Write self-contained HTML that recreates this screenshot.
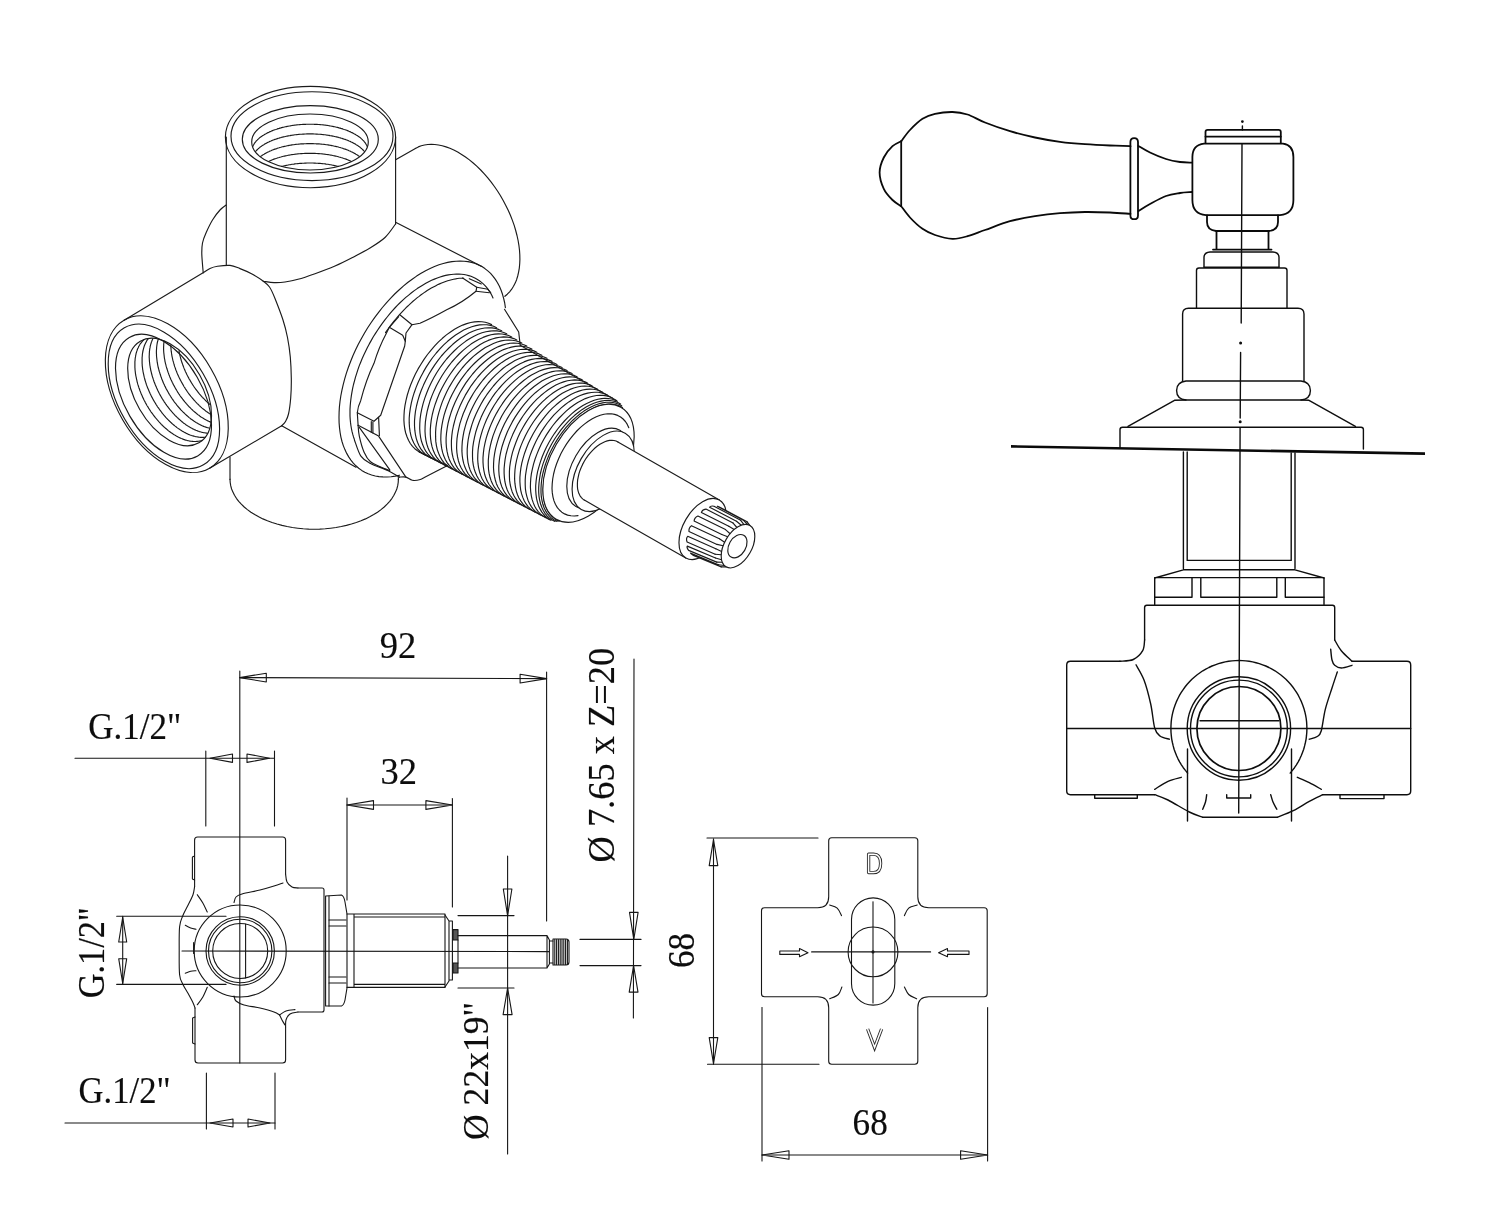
<!DOCTYPE html>
<html><head><meta charset="utf-8"><title>drawing</title>
<style>
html,body{margin:0;padding:0;background:#fff;}
body{width:1500px;height:1220px;overflow:hidden;font-family:"Liberation Serif",serif;}
svg{display:block;filter:grayscale(1);}
svg path,svg ellipse,svg circle,svg rect,svg line{fill:none;stroke:#1a1a1f;stroke-width:0.9;stroke-linecap:round;stroke-linejoin:round;}
.iso path,.iso ellipse{stroke:#1a1a22;stroke-width:1.15;}
.hv path{stroke:#0a0a0a;stroke-width:1.8;}
.md path,.md ellipse,.md circle{stroke:#0e0e0e;stroke-width:1.4;}
.dm path,.dm circle{stroke:#161616;stroke-width:1.1;}
svg .w{fill:#fff;}
svg .ns{stroke:none;}
text{font-family:"Liberation Serif",serif;fill:#0d0d0d;stroke:#0d0d0d;stroke-width:0.15;}
</style></head><body>
<svg width="1500" height="1220" viewBox="0 0 1500 1220">
<rect x="0" y="0" width="1500" height="1220" class="w ns"/>
<g class="iso">
<path d="M226.2 205 C225.2 205.8 222.3 207.5 220 210 C217.7 212.5 214.8 216.2 212.5 220 C210.2 223.8 207.9 228.7 206.2 232.5 C204.5 236.3 203.2 239.4 202.5 243 C201.8 246.6 201.7 249 201.8 254 C201.9 259 203 269.7 203.2 272.8"/>
<ellipse cx="310.5" cy="137" rx="85.1" ry="50.7"/>
<ellipse cx="312" cy="136.2" rx="81" ry="44.4"/>
<ellipse cx="310.3" cy="139.3" rx="68" ry="33.7"/>
<ellipse cx="310" cy="142" rx="58.3" ry="28"/>
<path d="M252.8 146.5 L253 146 L253.2 145.5 L253.4 145 L253.7 144.6 L254 144.1 L254.2 143.7 L254.6 143.2 L254.9 142.7 L255.2 142.3 L255.6 141.8 L255.9 141.4 L256.3 141 L256.7 140.5 L257.2 140.1 L257.6 139.6 L258.1 139.2 L258.5 138.8 L259 138.4 L259.5 137.9 L260 137.5 L260.6 137.1 L261.1 136.7 L261.7 136.3 L262.2 135.9 L262.8 135.5 L263.4 135.2 L264.1 134.8 L264.7 134.4 L265.3 134 L266 133.7 L266.7 133.3 L267.4 132.9 L268.1 132.6 L268.8 132.3 L269.5 131.9 L270.2 131.6 L271 131.3 L271.8 130.9 L272.5 130.6 L273.3 130.3 L274.1 130 L274.9 129.7 L275.7 129.5 L276.6 129.2 L277.4 128.9 L278.2 128.6 L279.1 128.4 L280 128.1 L280.8 127.9 L281.7 127.6 L282.6 127.4 L283.5 127.2 L284.4 127 L285.4 126.8 L286.3 126.6 L287.2 126.4 L288.2 126.2 L289.1 126 L290.1 125.9 L291 125.7 L292 125.5 L293 125.4 L293.9 125.3 L294.9 125.1 L295.9 125 L296.9 124.9 L297.9 124.8 L298.9 124.7 L299.9 124.6 L300.9 124.5 L301.9 124.5 L302.9 124.4 L303.9 124.4 L304.9 124.3 L305.9 124.3 L306.9 124.2 L308 124.2 L309 124.2 L310 124.2 L311 124.2 L312 124.2 L313.1 124.2 L314.1 124.3 L315.1 124.3 L316.1 124.4 L317.1 124.4 L318.1 124.5 L319.1 124.5 L320.1 124.6 L321.1 124.7 L322.1 124.8 L323.1 124.9 L324.1 125 L325.1 125.1 L326.1 125.3 L327 125.4 L328 125.5 L329 125.7 L329.9 125.9 L330.9 126 L331.8 126.2 L332.8 126.4 L333.7 126.6 L334.6 126.8 L335.6 127 L336.5 127.2 L337.4 127.4 L338.3 127.6 L339.1 127.9 L340 128.1 L340.9 128.4 L341.8 128.6 L342.6 128.9 L343.4 129.2 L344.3 129.5 L345.1 129.7 L345.9 130 L346.7 130.3 L347.5 130.6 L348.2 130.9 L349 131.3 L349.8 131.6 L350.5 131.9 L351.2 132.3 L351.9 132.6 L352.6 132.9 L353.3 133.3 L354 133.7 L354.7 134 L355.3 134.4 L355.9 134.8 L356.6 135.2 L357.2 135.5 L357.8 135.9 L358.3 136.3 L358.9 136.7 L359.4 137.1 L360 137.5 L360.5 137.9 L361 138.4 L361.5 138.8 L361.9 139.2 L362.4 139.6 L362.8 140.1 L363.3 140.5 L363.7 141 L364.1 141.4 L364.4 141.8 L364.8 142.3 L365.1 142.7 L365.4 143.2 L365.8 143.7 L366 144.1 L366.3 144.6 L366.6 145 L366.8 145.5 L367 146 L367.2 146.5"/>
<path d="M255.6 151.5 L255.9 151.1 L256.3 150.7 L256.7 150.2 L257.2 149.8 L257.6 149.3 L258.1 148.9 L258.5 148.5 L259 148.1 L259.5 147.7 L260 147.2 L260.6 146.8 L261.1 146.4 L261.7 146 L262.2 145.6 L262.8 145.2 L263.4 144.9 L264.1 144.5 L264.7 144.1 L265.3 143.7 L266 143.4 L266.7 143 L267.4 142.6 L268.1 142.3 L268.8 142 L269.5 141.6 L270.2 141.3 L271 141 L271.8 140.6 L272.5 140.3 L273.3 140 L274.1 139.7 L274.9 139.4 L275.7 139.2 L276.6 138.9 L277.4 138.6 L278.2 138.3 L279.1 138.1 L280 137.8 L280.8 137.6 L281.7 137.3 L282.6 137.1 L283.5 136.9 L284.4 136.7 L285.4 136.5 L286.3 136.3 L287.2 136.1 L288.2 135.9 L289.1 135.7 L290.1 135.6 L291 135.4 L292 135.2 L293 135.1 L293.9 135 L294.9 134.8 L295.9 134.7 L296.9 134.6 L297.9 134.5 L298.9 134.4 L299.9 134.3 L300.9 134.2 L301.9 134.2 L302.9 134.1 L303.9 134.1 L304.9 134 L305.9 134 L306.9 133.9 L308 133.9 L309 133.9 L310 133.9 L311 133.9 L312 133.9 L313.1 133.9 L314.1 134 L315.1 134 L316.1 134.1 L317.1 134.1 L318.1 134.2 L319.1 134.2 L320.1 134.3 L321.1 134.4 L322.1 134.5 L323.1 134.6 L324.1 134.7 L325.1 134.8 L326.1 135 L327 135.1 L328 135.2 L329 135.4 L329.9 135.6 L330.9 135.7 L331.8 135.9 L332.8 136.1 L333.7 136.3 L334.6 136.5 L335.6 136.7 L336.5 136.9 L337.4 137.1 L338.3 137.3 L339.1 137.6 L340 137.8 L340.9 138.1 L341.8 138.3 L342.6 138.6 L343.4 138.9 L344.3 139.2 L345.1 139.4 L345.9 139.7 L346.7 140 L347.5 140.3 L348.2 140.6 L349 141 L349.8 141.3 L350.5 141.6 L351.2 142 L351.9 142.3 L352.6 142.6 L353.3 143 L354 143.4 L354.7 143.7 L355.3 144.1 L355.9 144.5 L356.6 144.9 L357.2 145.2 L357.8 145.6 L358.3 146 L358.9 146.4 L359.4 146.8 L360 147.2 L360.5 147.7 L361 148.1 L361.5 148.5 L361.9 148.9 L362.4 149.3 L362.8 149.8 L363.3 150.2 L363.7 150.7 L364.1 151.1 L364.4 151.5"/>
<path d="M260.6 156.5 L261.1 156.1 L261.7 155.7 L262.2 155.3 L262.8 154.9 L263.4 154.6 L264.1 154.2 L264.7 153.8 L265.3 153.4 L266 153.1 L266.7 152.7 L267.4 152.3 L268.1 152 L268.8 151.7 L269.5 151.3 L270.2 151 L271 150.7 L271.8 150.3 L272.5 150 L273.3 149.7 L274.1 149.4 L274.9 149.1 L275.7 148.9 L276.6 148.6 L277.4 148.3 L278.2 148 L279.1 147.8 L280 147.5 L280.8 147.3 L281.7 147 L282.6 146.8 L283.5 146.6 L284.4 146.4 L285.4 146.2 L286.3 146 L287.2 145.8 L288.2 145.6 L289.1 145.4 L290.1 145.3 L291 145.1 L292 144.9 L293 144.8 L293.9 144.7 L294.9 144.5 L295.9 144.4 L296.9 144.3 L297.9 144.2 L298.9 144.1 L299.9 144 L300.9 143.9 L301.9 143.9 L302.9 143.8 L303.9 143.8 L304.9 143.7 L305.9 143.7 L306.9 143.6 L308 143.6 L309 143.6 L310 143.6 L311 143.6 L312 143.6 L313.1 143.6 L314.1 143.7 L315.1 143.7 L316.1 143.8 L317.1 143.8 L318.1 143.9 L319.1 143.9 L320.1 144 L321.1 144.1 L322.1 144.2 L323.1 144.3 L324.1 144.4 L325.1 144.5 L326.1 144.7 L327 144.8 L328 144.9 L329 145.1 L329.9 145.3 L330.9 145.4 L331.8 145.6 L332.8 145.8 L333.7 146 L334.6 146.2 L335.6 146.4 L336.5 146.6 L337.4 146.8 L338.3 147 L339.1 147.3 L340 147.5 L340.9 147.8 L341.8 148 L342.6 148.3 L343.4 148.6 L344.3 148.9 L345.1 149.1 L345.9 149.4 L346.7 149.7 L347.5 150 L348.2 150.3 L349 150.7 L349.8 151 L350.5 151.3 L351.2 151.7 L351.9 152 L352.6 152.3 L353.3 152.7 L354 153.1 L354.7 153.4 L355.3 153.8 L355.9 154.2 L356.6 154.6 L357.2 154.9 L357.8 155.3 L358.3 155.7 L358.9 156.1 L359.4 156.5"/>
<path d="M268.8 161.4 L269.5 161 L270.2 160.7 L271 160.4 L271.8 160 L272.5 159.7 L273.3 159.4 L274.1 159.1 L274.9 158.8 L275.7 158.6 L276.6 158.3 L277.4 158 L278.2 157.7 L279.1 157.5 L280 157.2 L280.8 157 L281.7 156.7 L282.6 156.5 L283.5 156.3 L284.4 156.1 L285.4 155.9 L286.3 155.7 L287.2 155.5 L288.2 155.3 L289.1 155.1 L290.1 155 L291 154.8 L292 154.6 L293 154.5 L293.9 154.4 L294.9 154.2 L295.9 154.1 L296.9 154 L297.9 153.9 L298.9 153.8 L299.9 153.7 L300.9 153.6 L301.9 153.6 L302.9 153.5 L303.9 153.5 L304.9 153.4 L305.9 153.4 L306.9 153.3 L308 153.3 L309 153.3 L310 153.3 L311 153.3 L312 153.3 L313.1 153.3 L314.1 153.4 L315.1 153.4 L316.1 153.5 L317.1 153.5 L318.1 153.6 L319.1 153.6 L320.1 153.7 L321.1 153.8 L322.1 153.9 L323.1 154 L324.1 154.1 L325.1 154.2 L326.1 154.4 L327 154.5 L328 154.6 L329 154.8 L329.9 155 L330.9 155.1 L331.8 155.3 L332.8 155.5 L333.7 155.7 L334.6 155.9 L335.6 156.1 L336.5 156.3 L337.4 156.5 L338.3 156.7 L339.1 157 L340 157.2 L340.9 157.5 L341.8 157.7 L342.6 158 L343.4 158.3 L344.3 158.6 L345.1 158.8 L345.9 159.1 L346.7 159.4 L347.5 159.7 L348.2 160 L349 160.4 L349.8 160.7 L350.5 161 L351.2 161.4"/>
<path d="M281.7 166.4 L282.6 166.2 L283.5 166 L284.4 165.8 L285.4 165.6 L286.3 165.4 L287.2 165.2 L288.2 165 L289.1 164.8 L290.1 164.7 L291 164.5 L292 164.3 L293 164.2 L293.9 164.1 L294.9 163.9 L295.9 163.8 L296.9 163.7 L297.9 163.6 L298.9 163.5 L299.9 163.4 L300.9 163.3 L301.9 163.3 L302.9 163.2 L303.9 163.2 L304.9 163.1 L305.9 163.1 L306.9 163 L308 163 L309 163 L310 163 L311 163 L312 163 L313.1 163 L314.1 163.1 L315.1 163.1 L316.1 163.2 L317.1 163.2 L318.1 163.3 L319.1 163.3 L320.1 163.4 L321.1 163.5 L322.1 163.6 L323.1 163.7 L324.1 163.8 L325.1 163.9 L326.1 164.1 L327 164.2 L328 164.3 L329 164.5 L329.9 164.7 L330.9 164.8 L331.8 165 L332.8 165.2 L333.7 165.4 L334.6 165.6 L335.6 165.8 L336.5 166 L337.4 166.2 L338.3 166.4"/>
<path d="M226.3 137 L226.3 265.2"/>
<path d="M395.6 137 L395.6 224"/>
<path d="M395.6 224 C393.8 226.2 389.3 233.5 385 237.5 C380.7 241.5 375.4 244.7 370 248 C364.6 251.3 358.3 254.5 352.5 257.5 C346.7 260.5 341.2 263.3 335 266 C328.8 268.7 321.2 271.5 315 273.7 C308.8 275.9 303 277.9 298 279.3 C293 280.7 289 281.4 285 282 C281 282.6 277.6 282.7 274 282.6 C270.4 282.5 265 281.4 263.2 281.2"/>
<ellipse cx="166.8" cy="394.2" rx="85.5" ry="51" transform="rotate(60 166.8 394.2)"/>
<ellipse cx="163.9" cy="396.35" rx="79.1" ry="45.3" transform="rotate(60 163.9 396.35)"/>
<ellipse cx="163.5" cy="396.65" rx="68.4" ry="38.9" transform="rotate(60 163.5 396.65)"/>
<ellipse cx="169.6" cy="392" rx="58.65" ry="34.6" transform="rotate(60 169.6 392)"/>
<path d="M202.2 440.4 L201.7 440.6 L201.1 440.7 L200.5 440.9 L199.9 441 L199.2 441.1 L198.6 441.2 L198 441.3 L197.4 441.4 L196.7 441.4 L196.1 441.5 L195.4 441.5 L194.8 441.5 L194.1 441.5 L193.4 441.5 L192.8 441.4 L192.1 441.4 L191.4 441.3 L190.7 441.2 L190 441.1 L189.3 441 L188.6 440.8 L187.9 440.7 L187.2 440.5 L186.5 440.3 L185.8 440.1 L185.1 439.9 L184.3 439.6 L183.6 439.4 L182.9 439.1 L182.2 438.8 L181.4 438.5 L180.7 438.2 L180 437.9 L179.3 437.5 L178.5 437.2 L177.8 436.8 L177.1 436.4 L176.3 436 L175.6 435.6 L174.9 435.1 L174.1 434.7 L173.4 434.2 L172.7 433.8 L172 433.3 L171.2 432.8 L170.5 432.2 L169.8 431.7 L169.1 431.2 L168.3 430.6 L167.6 430 L166.9 429.4 L166.2 428.8 L165.5 428.2 L164.8 427.6 L164.1 427 L163.4 426.3 L162.7 425.7 L162 425 L161.3 424.3 L160.7 423.6 L160 422.9 L159.3 422.2 L158.7 421.5 L158 420.7 L157.4 420 L156.7 419.2 L156.1 418.5 L155.4 417.7 L154.8 416.9 L154.2 416.1 L153.6 415.3 L153 414.5 L152.4 413.7 L151.8 412.9 L151.2 412.1 L150.6 411.2 L150.1 410.4 L149.5 409.5 L148.9 408.7 L148.4 407.8 L147.9 406.9 L147.3 406 L146.8 405.2 L146.3 404.3 L145.8 403.4 L145.3 402.5 L144.9 401.6 L144.4 400.7 L143.9 399.7 L143.5 398.8 L143 397.9 L142.6 397 L142.2 396.1 L141.8 395.1 L141.4 394.2 L141 393.3 L140.6 392.3 L140.3 391.4 L139.9 390.5 L139.6 389.5 L139.2 388.6 L138.9 387.7 L138.6 386.7 L138.3 385.8 L138 384.9 L137.7 383.9 L137.5 383 L137.2 382.1 L137 381.1 L136.8 380.2 L136.6 379.3 L136.4 378.4 L136.2 377.4 L136 376.5 L135.8 375.6 L135.7 374.7 L135.5 373.8 L135.4 372.9 L135.3 372 L135.2 371.1 L135.1 370.2 L135 369.3 L135 368.5 L134.9 367.6 L134.9 366.7 L134.9 365.9 L134.9 365 L134.9 364.2 L134.9 363.3 L134.9 362.5 L134.9 361.7 L135 360.9 L135.1 360.1 L135.1 359.3 L135.2 358.5 L135.3 357.7 L135.5 356.9 L135.6 356.2 L135.7 355.4 L135.9 354.7 L136 353.9 L136.2 353.2 L136.4 352.5 L136.6 351.8 L136.8 351.1 L137.1 350.4 L137.3 349.8 L137.5 349.1 L137.8 348.5 L138.1 347.9 L138.4 347.2 L138.7 346.6 L139 346 L139.3 345.5 L139.6 344.9 L140 344.3 L140.3 343.8 L140.7 343.3 L141.1 342.8 L141.5 342.3 L141.9 341.8 L142.3 341.3 L142.7 340.8 L143.1 340.4 L143.6 340 L144 339.5"/>
<path d="M205.2 437.2 L204.5 437.2 L203.9 437.3 L203.3 437.3 L202.6 437.4 L201.9 437.4 L201.3 437.3 L200.6 437.3 L199.9 437.3 L199.3 437.2 L198.6 437.1 L197.9 437 L197.2 436.9 L196.5 436.8 L195.8 436.7 L195.1 436.5 L194.4 436.3 L193.7 436.1 L193 435.9 L192.2 435.7 L191.5 435.5 L190.8 435.2 L190.1 435 L189.4 434.7 L188.6 434.4 L187.9 434.1 L187.2 433.7 L186.4 433.4 L185.7 433 L185 432.6 L184.3 432.3 L183.5 431.8 L182.8 431.4 L182.1 431 L181.3 430.5 L180.6 430.1 L179.9 429.6 L179.1 429.1 L178.4 428.6 L177.7 428.1 L177 427.6 L176.3 427 L175.5 426.4 L174.8 425.9 L174.1 425.3 L173.4 424.7 L172.7 424.1 L172 423.5 L171.3 422.8 L170.6 422.2 L169.9 421.5 L169.2 420.8 L168.5 420.2 L167.9 419.5 L167.2 418.8 L166.5 418.1 L165.8 417.3 L165.2 416.6 L164.5 415.8 L163.9 415.1 L163.3 414.3 L162.6 413.6 L162 412.8 L161.4 412 L160.8 411.2 L160.2 410.4 L159.6 409.6 L159 408.7 L158.4 407.9 L157.8 407.1 L157.2 406.2 L156.7 405.4 L156.1 404.5 L155.6 403.6 L155.1 402.8 L154.5 401.9 L154 401 L153.5 400.1 L153 399.2 L152.5 398.3 L152 397.4 L151.6 396.5 L151.1 395.6 L150.7 394.7 L150.2 393.8 L149.8 392.8 L149.4 391.9 L149 391 L148.6 390.1 L148.2 389.1 L147.8 388.2 L147.4 387.3 L147.1 386.3 L146.7 385.4 L146.4 384.5 L146.1 383.5 L145.8 382.6 L145.5 381.6 L145.2 380.7 L144.9 379.8 L144.7 378.8 L144.4 377.9 L144.2 377 L144 376.1 L143.8 375.1 L143.6 374.2 L143.4 373.3 L143.2 372.4 L143 371.5 L142.9 370.5 L142.7 369.6 L142.6 368.7 L142.5 367.8 L142.4 366.9 L142.3 366.1 L142.2 365.2 L142.2 364.3 L142.1 363.4 L142.1 362.6 L142.1 361.7 L142.1 360.9 L142.1 360 L142.1 359.2 L142.1 358.4 L142.1 357.5 L142.2 356.7 L142.3 355.9 L142.3 355.1 L142.4 354.3 L142.5 353.5 L142.6 352.8 L142.8 352 L142.9 351.3 L143.1 350.5 L143.2 349.8 L143.4 349.1 L143.6 348.4 L143.8 347.7 L144 347 L144.2 346.3 L144.5 345.6 L144.7 345 L145 344.3 L145.3 343.7 L145.6 343.1 L145.9 342.5 L146.2 341.9 L146.5 341.3 L146.8 340.7 L147.2 340.2 L147.5 339.6 L147.9 339.1 L148.3 338.6"/>
<path d="M207.1 433.1 L206.4 433.1 L205.8 433 L205.1 432.9 L204.4 432.8 L203.7 432.7 L203 432.5 L202.3 432.4 L201.6 432.2 L200.9 432 L200.2 431.8 L199.4 431.6 L198.7 431.3 L198 431.1 L197.3 430.8 L196.6 430.5 L195.8 430.2 L195.1 429.9 L194.4 429.6 L193.6 429.2 L192.9 428.9 L192.2 428.5 L191.4 428.1 L190.7 427.7 L190 427.3 L189.2 426.8 L188.5 426.4 L187.8 425.9 L187.1 425.5 L186.3 425 L185.6 424.5 L184.9 423.9 L184.2 423.4 L183.4 422.9 L182.7 422.3 L182 421.7 L181.3 421.1 L180.6 420.5 L179.9 419.9 L179.2 419.3 L178.5 418.7 L177.8 418 L177.1 417.4 L176.4 416.7 L175.7 416 L175 415.3 L174.4 414.6 L173.7 413.9 L173 413.2 L172.4 412.4 L171.7 411.7 L171.1 410.9 L170.4 410.2 L169.8 409.4 L169.2 408.6 L168.6 407.8 L168 407 L167.3 406.2 L166.7 405.4 L166.2 404.6 L165.6 403.8 L165 402.9 L164.4 402.1 L163.9 401.2 L163.3 400.4 L162.8 399.5 L162.2 398.6 L161.7 397.7 L161.2 396.9 L160.7 396 L160.2 395.1 L159.7 394.2 L159.2 393.3 L158.8 392.4 L158.3 391.4 L157.8 390.5 L157.4 389.6 L157 388.7 L156.6 387.8 L156.2 386.8 L155.8 385.9 L155.4 385 L155 384 L154.6 383.1 L154.3 382.2 L153.9 381.2 L153.6 380.3 L153.3 379.4 L153 378.4 L152.7 377.5 L152.4 376.6 L152.1 375.6 L151.9 374.7 L151.6 373.8 L151.4 372.8 L151.2 371.9 L150.9 371 L150.7 370.1 L150.6 369.1 L150.4 368.2 L150.2 367.3 L150.1 366.4 L149.9 365.5 L149.8 364.6 L149.7 363.7 L149.6 362.8 L149.5 361.9 L149.4 361 L149.4 360.2 L149.3 359.3 L149.3 358.4 L149.2 357.6 L149.2 356.7 L149.2 355.9 L149.3 355 L149.3 354.2 L149.3 353.4 L149.4 352.6 L149.4 351.8 L149.5 351 L149.6 350.2 L149.7 349.4 L149.8 348.6 L150 347.9 L150.1 347.1 L150.2 346.4 L150.4 345.6 L150.6 344.9 L150.8 344.2 L151 343.5 L151.2 342.8 L151.4 342.1 L151.7 341.5 L151.9 340.8 L152.2 340.2 L152.5 339.6 L152.7 338.9"/>
<path d="M209.5 428.2 L208.8 428 L208.1 427.8 L207.3 427.6 L206.6 427.4 L205.9 427.2 L205.2 426.9 L204.5 426.7 L203.7 426.4 L203 426.1 L202.3 425.8 L201.6 425.4 L200.8 425.1 L200.1 424.7 L199.4 424.3 L198.6 424 L197.9 423.5 L197.2 423.1 L196.4 422.7 L195.7 422.2 L195 421.8 L194.2 421.3 L193.5 420.8 L192.8 420.3 L192.1 419.8 L191.3 419.3 L190.6 418.7 L189.9 418.1 L189.2 417.6 L188.5 417 L187.8 416.4 L187.1 415.8 L186.4 415.2 L185.7 414.5 L185 413.9 L184.3 413.2 L183.6 412.5 L182.9 411.9 L182.2 411.2 L181.6 410.5 L180.9 409.8 L180.2 409 L179.6 408.3 L178.9 407.5 L178.3 406.8 L177.6 406 L177 405.3 L176.4 404.5 L175.8 403.7 L175.1 402.9 L174.5 402.1 L173.9 401.3 L173.3 400.4 L172.8 399.6 L172.2 398.8 L171.6 397.9 L171.1 397.1 L170.5 396.2 L170 395.3 L169.4 394.5 L168.9 393.6 L168.4 392.7 L167.9 391.8 L167.4 390.9 L166.9 390 L166.4 389.1 L165.9 388.2 L165.5 387.3 L165 386.4 L164.6 385.5 L164.2 384.5 L163.7 383.6 L163.3 382.7 L162.9 381.8 L162.6 380.8 L162.2 379.9 L161.8 379 L161.5 378 L161.1 377.1 L160.8 376.2 L160.5 375.2 L160.2 374.3 L159.9 373.3 L159.6 372.4 L159.3 371.5 L159 370.5 L158.8 369.6 L158.6 368.7 L158.3 367.8 L158.1 366.8 L157.9 365.9 L157.7 365 L157.6 364.1 L157.4 363.2 L157.2 362.2 L157.1 361.3 L157 360.4 L156.9 359.5 L156.8 358.6 L156.7 357.8 L156.6 356.9 L156.5 356 L156.5 355.1 L156.5 354.3 L156.4 353.4 L156.4 352.6 L156.4 351.7 L156.4 350.9 L156.5 350.1 L156.5 349.2 L156.6 348.4 L156.6 347.6 L156.7 346.8 L156.8 346 L156.9 345.2 L157 344.5 L157.1 343.7 L157.3 343 L157.4 342.2 L157.6 341.5 L157.8 340.8 L158 340.1 L158.2 339.4"/>
<path d="M210.9 422.2 L210.2 421.9 L209.5 421.6 L208.7 421.3 L208 420.9 L207.3 420.6 L206.6 420.2 L205.8 419.8 L205.1 419.4 L204.4 419 L203.6 418.5 L202.9 418.1 L202.2 417.6 L201.4 417.2 L200.7 416.7 L200 416.2 L199.3 415.6 L198.5 415.1 L197.8 414.6 L197.1 414 L196.4 413.4 L195.7 412.8 L195 412.2 L194.3 411.6 L193.5 411 L192.8 410.4 L192.2 409.7 L191.5 409.1 L190.8 408.4 L190.1 407.7 L189.4 407 L188.7 406.3 L188.1 405.6 L187.4 404.9 L186.8 404.1 L186.1 403.4 L185.5 402.6 L184.8 401.9 L184.2 401.1 L183.6 400.3 L182.9 399.5 L182.3 398.7 L181.7 397.9 L181.1 397.1 L180.5 396.3 L179.9 395.5 L179.4 394.6 L178.8 393.8 L178.2 392.9 L177.7 392.1 L177.2 391.2 L176.6 390.3 L176.1 389.4 L175.6 388.6 L175.1 387.7 L174.6 386.8 L174.1 385.9 L173.6 385 L173.1 384.1 L172.7 383.1 L172.2 382.2 L171.8 381.3 L171.4 380.4 L170.9 379.5 L170.5 378.5 L170.1 377.6 L169.7 376.7 L169.4 375.7 L169 374.8 L168.7 373.9 L168.3 372.9 L168 372 L167.7 371.1 L167.4 370.1 L167.1 369.2 L166.8 368.3 L166.5 367.3 L166.2 366.4 L166 365.5 L165.8 364.5 L165.5 363.6 L165.3 362.7 L165.1 361.8 L164.9 360.8 L164.8 359.9 L164.6 359 L164.4 358.1 L164.3 357.2 L164.2 356.3 L164.1 355.4 L164 354.5 L163.9 353.6 L163.8 352.7 L163.7 351.9 L163.7 351 L163.6 350.1 L163.6 349.3 L163.6 348.4 L163.6 347.6 L163.6 346.7 L163.7 345.9 L163.7 345.1 L163.7 344.3 L163.8 343.5 L163.9 342.7 L164 341.9 L164.1 341.1"/>
<path d="M210.8 414.4 L210.1 413.9 L209.4 413.5 L208.6 413 L207.9 412.5 L207.2 412 L206.4 411.5 L205.7 411 L205 410.4 L204.3 409.8 L203.6 409.3 L202.9 408.7 L202.1 408.1 L201.4 407.5 L200.7 406.9 L200 406.2 L199.3 405.6 L198.7 404.9 L198 404.2 L197.3 403.6 L196.6 402.9 L195.9 402.2 L195.3 401.5 L194.6 400.7 L193.9 400 L193.3 399.2 L192.6 398.5 L192 397.7 L191.4 397 L190.7 396.2 L190.1 395.4 L189.5 394.6 L188.9 393.8 L188.3 393 L187.7 392.1 L187.1 391.3 L186.6 390.5 L186 389.6 L185.4 388.8 L184.9 387.9 L184.3 387 L183.8 386.2 L183.3 385.3 L182.8 384.4 L182.3 383.5 L181.8 382.6 L181.3 381.7 L180.8 380.8 L180.3 379.9 L179.9 379 L179.4 378.1 L179 377.2 L178.5 376.2 L178.1 375.3 L177.7 374.4 L177.3 373.5 L176.9 372.5 L176.6 371.6 L176.2 370.7 L175.8 369.7 L175.5 368.8 L175.2 367.9 L174.8 366.9 L174.5 366 L174.2 365 L174 364.1 L173.7 363.2 L173.4 362.2 L173.2 361.3 L172.9 360.4 L172.7 359.5 L172.5 358.5 L172.3 357.6 L172.1 356.7 L171.9 355.8 L171.8 354.9 L171.6 353.9 L171.5 353 L171.4 352.1 L171.2 351.2 L171.1 350.3 L171.1 349.5 L171 348.6 L170.9 347.7 L170.9 346.8 L170.8 346 L170.8 345.1"/>
<path d="M210 404.5 L209.3 403.9 L208.6 403.3 L207.9 402.7 L207.2 402.1 L206.5 401.4 L205.8 400.8 L205.2 400.1 L204.5 399.4 L203.8 398.7 L203.1 398 L202.4 397.3 L201.8 396.6 L201.1 395.8 L200.5 395.1 L199.8 394.3 L199.2 393.6 L198.6 392.8 L197.9 392 L197.3 391.2 L196.7 390.4 L196.1 389.6 L195.5 388.8 L194.9 388 L194.3 387.2 L193.7 386.3 L193.2 385.5 L192.6 384.6 L192.1 383.8 L191.5 382.9 L191 382 L190.5 381.1 L190 380.2 L189.4 379.4 L188.9 378.5 L188.5 377.6 L188 376.7 L187.5 375.8 L187 374.8 L186.6 373.9 L186.2 373 L185.7 372.1 L185.3 371.2 L184.9 370.2 L184.5 369.3 L184.1 368.4 L183.7 367.4 L183.4 366.5 L183 365.6 L182.7 364.6 L182.4 363.7 L182 362.8 L181.7 361.8 L181.4 360.9 L181.1 360 L180.9 359 L180.6 358.1 L180.4 357.2 L180.1 356.2 L179.9 355.3 L179.7 354.4 L179.5 353.5 L179.3 352.5 L179.1 351.6 L179 350.7"/>
<path d="M124.1 320.2 L203.5 272.6"/>
<path d="M203.5 272.6 C204.6 271.9 207.7 269.6 210 268.5 C212.3 267.4 214.2 266.8 217.5 266.3 C220.8 265.8 226.2 265 230 265.4 C233.8 265.8 236.3 267.2 240 268.6 C243.7 270 248.2 271.9 252 274 C255.8 276.1 260.1 278.8 263 281 C265.9 283.2 267.5 284.1 269.5 287 C271.5 289.9 272.8 293 275 298.5 C277.2 304 280.9 313.5 283 320 C285.1 326.5 286.3 331.3 287.5 337.5 C288.7 343.7 289.7 350.2 290.3 357 C290.9 363.8 291.2 371.2 291.3 378 C291.4 384.8 291.2 392 290.7 398 C290.2 404 289.4 410.1 288.5 414 C287.6 417.9 286.6 419.5 285.5 421.5 C284.4 423.5 282.3 425.1 281.7 425.8"/>
<path d="M209.6 468.2 L281.7 425.8"/>
<path d="M281.7 425.8 L356 467.3"/>
<path d="M230 457 L230 479.5"/>
<path d="M230 479.2 L230.2 482.5 L230.7 485.7 L231.6 489 L232.9 492.1 L234.5 495.3 L236.4 498.3 L238.7 501.3 L241.3 504.2 L244.2 507 L247.4 509.6 L250.9 512.2 L254.7 514.6 L258.7 516.8 L262.9 518.9 L267.4 520.8 L272.1 522.5 L277 524 L282 525.4 L287.1 526.5 L292.4 527.5 L297.8 528.2 L303.2 528.8 L308.7 529.1 L314.2 529.2 L319.7 529.1 L325.2 528.8 L330.6 528.2 L336 527.5 L341.3 526.5 L346.4 525.4 L351.4 524 L356.3 522.5 L361 520.8 L365.5 518.9 L369.7 516.8 L373.7 514.6 L377.5 512.2 L381 509.6 L384.2 507 L387.1 504.2 L389.7 501.3 L392 498.3 L393.9 495.3 L395.5 492.1 L396.8 489 L397.7 485.7 L398.2 482.5 L398.4 479.2"/>
<path d="M398.4 477.5 L398.4 479.5"/>
<path d="M395.6 159.8 L415.4 148.4"/>
<path d="M415.4 148.4 L418.3 146.9 L421.3 145.8 L424.5 145 L427.8 144.5 L431.3 144.3 L434.8 144.5 L438.5 145 L442.2 145.7 L446 146.9 L449.9 148.3 L453.8 150 L457.7 152 L461.6 154.4 L465.5 157 L469.4 159.9 L473.2 163 L477 166.4 L480.7 170 L484.3 173.8 L487.8 177.9 L491.2 182.1 L494.4 186.5 L497.5 191 L500.5 195.7 L503.2 200.5 L505.8 205.4 L508.2 210.3 L510.4 215.3 L512.4 220.4 L514.2 225.4 L515.7 230.5 L517 235.5 L518.1 240.5 L518.9 245.3 L519.5 250.2 L519.8 254.8 L519.9 259.4 L519.7 263.8 L519.3 268.1 L518.6 272.1 L517.7 276 L516.6 279.7 L515.2 283.1 L513.5 286.3 L511.7 289.2 L509.6 291.8 L507.3 294.2 L504.9 296.3"/>
<path d="M395.6 222.3 L481.8 266.5"/>
<path d="M399.5 475.2 L395.3 476.1 L391.1 476.7 L387 477 L382.9 476.9 L379 476.6 L375.3 476 L371.6 475 L368.2 473.8 L364.8 472.2 L361.7 470.4 L358.7 468.2 L355.9 465.8 L353.3 463.1 L350.9 460.1 L348.7 456.9 L346.7 453.4 L344.9 449.6 L343.3 445.6 L342 441.5 L340.9 437.1 L340.1 432.5 L339.5 427.7 L339.1 422.7 L339 417.6 L339.1 412.4 L339.4 407 L340 401.5 L340.8 396 L341.9 390.3 L343.2 384.6 L344.7 378.9 L346.4 373.1 L348.4 367.3 L350.6 361.5 L352.9 355.7 L355.5 350 L358.3 344.3 L361.3 338.7 L364.4 333.2 L367.7 327.8 L371.2 322.5 L374.8 317.3 L378.6 312.3 L382.4 307.5 L386.4 302.8 L390.5 298.3 L394.7 294 L399 290 L403.3 286.1 L407.7 282.5 L412.2 279.2 L416.6 276.1 L421.1 273.3 L425.6 270.7 L430.1 268.5 L434.5 266.5 L439 264.8 L443.3 263.5 L447.7 262.4 L451.9 261.6 L456.1 261.2 L460.1 261 L464.1 261.2 L467.9 261.6 L471.6 262.4 L475.2 263.5 L478.6 264.9 L481.9 266.6 L484.9 268.6 L487.8 270.9 L490.6 273.4 L493.1 276.3 L495.4 279.4 L497.5 282.7 L499.4 286.3 L501.1 290.2 L502.5 294.3 L503.7 298.6 L504.7 303 L505.4 307.7"/>
<path d="M354.4 439.5 L353.5 436.9 L352.7 434.2 L352 431.4 L351.4 428.5 L350.9 425.5 L350.5 422.4 L350.2 419.3 L350 416 L350 412.7 L350 409.4 L350.2 406 L350.5 402.5 L350.9 399 L351.4 395.4 L352 391.8 L352.7 388.1 L353.5 384.5 L354.5 380.8 L355.5 377.1 L356.7 373.4 L357.9 369.6 L359.2 365.9 L360.7 362.2 L362.2 358.5 L363.9 354.8 L365.6 351.2 L367.4 347.5 L369.3 343.9 L371.3 340.4 L373.3 336.8 L375.5 333.4 L377.7 330 L380 326.6 L382.3 323.3 L384.7 320.1 L387.2 317 L389.7 313.9 L392.3 310.9 L394.9 308 L397.6 305.2 L400.3 302.5 L403.1 299.9 L405.8 297.4 L408.7 295.1 L411.5 292.8 L414.3 290.6 L417.2 288.6 L420.1 286.7 L423 284.9 L425.8 283.3 L428.7 281.7 L431.6 280.3 L434.4 279.1 L437.3 278 L440.1 277 L442.9 276.1 L445.7 275.4 L448.4 274.9 L451.1 274.5 L453.8 274.2 L456.4 274.1 L459 274.1 L461.5 274.2 L464 274.5 L466.4 275 L468.7 275.6 L471 276.3 L473.2 277.2 L475.3 278.2 L477.4 279.4 L479.4 280.7 L481.2 282.1 L483 283.6 L484.8 285.3 L486.4 287.1 L487.9 289.1 L489.3 291.2 L490.7 293.3 L491.9 295.6 L493 298"/>
<path d="M354.5 440.2 C355.6 442.9 358.2 452.3 360.9 456.2 C363.6 460.1 365.9 461 370.5 463.4 C375.1 465.8 383.4 468.4 388.2 470.7 C393 473 397.5 476 399.4 477.1"/>
<path d="M385.5 332.7 L387.1 330.4 L388.8 328 L390.5 325.7 L392.3 323.4 L394 321.2 L395.8 319 L397.6 316.8 L399.5 314.7 L401.4 312.7 L403.3 310.6 L405.2 308.7 L407.1 306.7 L409.1 304.9 L411 303.1 L413 301.3 L415 299.6 L417 297.9 L419.1 296.4 L421.1 294.8 L423.1 293.4 L425.2 291.9 L427.2 290.6 L429.3 289.3 L431.3 288.1 L433.4 287 L435.5 285.9 L437.5 284.8 L439.6 283.9 L441.6 283 L443.6 282.2 L445.6 281.5 L447.7 280.8 L449.7 280.2 L451.6 279.7 L453.6 279.2 L455.6 278.9 L457.5 278.5 L459.4 278.3 L461.3 278.2 L463.2 278.1"/>
<path d="M462.6 278 L476.7 287.3 L476 291.3 Q462 303 446.7 309.8 Q432 318 420 323.3 L412 324.7 L399.8 314.8"/>
<path d="M476.7 287.3 L488 289.3 L490.7 292.7"/>
<path d="M476 291.3 L489.3 292.7"/>
<path d="M469.3 278.7 L481.3 284"/>
<path d="M389.3 327.3 L402.7 335.3 L405.3 341.3 L404.7 346 L380.7 415.3 L374 421.3 L357.3 412.7 Q358 406 360.7 400.7 Q366 380 374 363.3 Q379 347 386 334 Z"/>
<path d="M412 324.7 L406 333 L405.3 341.3"/>
<path d="M398.7 316.7 L389.3 327.3"/>
<path d="M358.1 425.3 C358.3 427.1 358.3 431.6 359.3 436.1 C360.3 440.6 362.2 447.9 364.1 452.2 C366 456.5 367.8 459.4 370.5 461.8 C373.2 464.2 377 465.2 380.2 466.7 C383.4 468.2 388.2 470 389.8 470.7"/>
<path d="M359.3 427.3 L389.8 469.9"/>
<path d="M358.1 425.3 L378.6 436.1 L405.9 477.1"/>
<path d="M371.3 421.5 L371.3 432.3 M372.9 421.8 L372.9 433"/>
<path d="M378.6 417.3 L379.4 435.5"/>
<path d="M357.3 412.7 L358.1 425.3"/>
<path d="M504.5 309.3 L518.7 332 L520.2 345.3"/>
<path d="M399.4 477.1 C400.5 477.1 403.8 476.6 405.9 477.1 C408 477.6 409.9 479.9 412.3 480.3 C414.7 480.7 417.9 480.2 420.3 479.5 C422.7 478.8 422.1 478.6 426.7 476.3 C431.2 474 444.1 467.3 447.6 465.5"/>
<path d="M420.3 452.5 L417.5 450.8 L414.8 448.7 L412.5 446.3 L410.3 443.5 L408.5 440.3 L407 436.8 L405.7 433 L404.8 429 L404.2 424.6 L403.9 420.1 L404 415.4 L404.3 410.5 L405 405.4 L406 400.3 L407.3 395 L408.9 389.8 L410.8 384.5 L413 379.2 L415.4 374.1 L418.1 368.9 L421.1 364 L424.2 359.1 L427.5 354.5 L431.1 350.1 L434.7 345.9 L438.5 341.9 L442.4 338.3 L446.4 334.9 L450.5 332 L454.5 329.3 L458.6 327 L462.7 325.1 L466.7 323.6 L470.7 322.5 L474.5 321.9 L478.3 321.6 L481.9 321.7 L485.3 322.3 L488.6 323.3 L491.6 324.6"/>
<path d="M425.6 455.2 L422.7 453.5 L420.1 451.4 L417.7 449 L415.6 446.2 L413.8 443 L412.2 439.6 L411 435.8 L410.1 431.7 L409.5 427.4 L409.2 422.9 L409.2 418.2 L409.6 413.3 L410.3 408.3 L411.3 403.1 L412.6 397.9 L414.2 392.7 L416.1 387.4 L418.2 382.2 L420.7 377 L423.4 371.9 L426.3 366.9 L429.4 362.1 L432.7 357.5 L436.3 353 L439.9 348.9 L443.7 344.9 L447.6 341.3 L451.6 338 L455.6 335 L459.7 332.4 L463.7 330.1 L467.8 328.2 L471.8 326.7 L475.8 325.6 L479.6 324.9 L483.3 324.7 L486.9 324.8 L490.4 325.4 L493.6 326.3 L496.6 327.7"/>
<path d="M430.8 457.9 L427.9 456.2 L425.3 454.2 L423 451.7 L420.8 448.9 L419 445.8 L417.5 442.3 L416.3 438.6 L415.4 434.5 L414.8 430.2 L414.5 425.7 L414.5 421 L414.9 416.1 L415.5 411.1 L416.5 406 L417.8 400.8 L419.4 395.5 L421.3 390.3 L423.5 385.1 L425.9 379.9 L428.6 374.8 L431.5 369.9 L434.6 365.1 L438 360.4 L441.4 356 L445.1 351.9 L448.9 348 L452.8 344.3 L456.7 341 L460.7 338 L464.8 335.4 L468.9 333.1 L472.9 331.3 L476.9 329.8 L480.8 328.7 L484.7 328 L488.4 327.7 L492 327.9 L495.4 328.4 L498.6 329.4 L501.7 330.8"/>
<path d="M436 460.6 L433.2 459 L430.6 456.9 L428.2 454.5 L426.1 451.7 L424.3 448.5 L422.8 445.1 L421.5 441.3 L420.6 437.3 L420 433 L419.7 428.5 L419.8 423.8 L420.1 418.9 L420.8 413.9 L421.8 408.8 L423.1 403.6 L424.7 398.4 L426.6 393.2 L428.7 388 L431.2 382.8 L433.8 377.8 L436.7 372.8 L439.8 368 L443.2 363.4 L446.6 359 L450.3 354.9 L454.1 351 L457.9 347.4 L461.9 344.1 L465.9 341.1 L469.9 338.5 L474 336.2 L478 334.3 L482 332.8 L485.9 331.7 L489.8 331.1 L493.5 330.8 L497 330.9 L500.5 331.5 L503.7 332.5 L506.7 333.8"/>
<path d="M441.3 463.3 L438.4 461.7 L435.8 459.6 L433.4 457.2 L431.4 454.4 L429.5 451.3 L428 447.8 L426.8 444.1 L425.9 440.1 L425.3 435.8 L425 431.3 L425.1 426.6 L425.4 421.8 L426.1 416.8 L427.1 411.7 L428.4 406.5 L429.9 401.3 L431.8 396.1 L434 390.9 L436.4 385.8 L439.1 380.7 L442 375.8 L445.1 371 L448.4 366.4 L451.8 362 L455.5 357.9 L459.2 354 L463.1 350.4 L467 347.1 L471 344.1 L475.1 341.5 L479.1 339.3 L483.1 337.4 L487.1 335.9 L491 334.8 L494.8 334.1 L498.5 333.9 L502.1 334 L505.5 334.6 L508.7 335.5 L511.7 336.9"/>
<path d="M446.5 466.1 L443.6 464.4 L441 462.3 L438.7 459.9 L436.6 457.1 L434.8 454 L433.3 450.6 L432.1 446.9 L431.2 442.8 L430.6 438.6 L430.3 434.1 L430.3 429.4 L430.7 424.6 L431.3 419.6 L432.3 414.5 L433.6 409.4 L435.2 404.2 L437.1 399 L439.2 393.8 L441.6 388.7 L444.3 383.7 L447.2 378.7 L450.3 374 L453.6 369.4 L457 365 L460.7 360.9 L464.4 357 L468.3 353.4 L472.2 350.1 L476.2 347.2 L480.2 344.6 L484.2 342.3 L488.2 340.4 L492.2 339 L496.1 337.9 L499.9 337.2 L503.6 336.9 L507.2 337.1 L510.6 337.6 L513.8 338.6 L516.8 340"/>
<path d="M451.7 468.8 L448.9 467.1 L446.3 465.1 L443.9 462.6 L441.9 459.9 L440.1 456.8 L438.6 453.3 L437.3 449.6 L436.4 445.6 L435.8 441.4 L435.6 436.9 L435.6 432.2 L435.9 427.4 L436.6 422.5 L437.6 417.4 L438.9 412.3 L440.5 407.1 L442.3 401.9 L444.5 396.7 L446.9 391.6 L449.5 386.6 L452.4 381.7 L455.5 376.9 L458.8 372.4 L462.2 368 L465.8 363.9 L469.6 360 L473.4 356.4 L477.3 353.2 L481.3 350.2 L485.3 347.6 L489.4 345.4 L493.4 343.5 L497.3 342 L501.2 340.9 L505 340.3 L508.7 340 L512.2 340.2 L515.6 340.7 L518.8 341.7 L521.8 343"/>
<path d="M456.9 471.5 L454.1 469.8 L451.5 467.8 L449.2 465.4 L447.1 462.6 L445.3 459.5 L443.8 456.1 L442.6 452.4 L441.7 448.4 L441.1 444.2 L440.8 439.7 L440.9 435.1 L441.2 430.3 L441.9 425.3 L442.9 420.2 L444.1 415.1 L445.7 410 L447.6 404.8 L449.7 399.6 L452.1 394.5 L454.8 389.5 L457.6 384.6 L460.7 379.9 L464 375.4 L467.4 371 L471 366.9 L474.8 363 L478.6 359.5 L482.5 356.2 L486.5 353.2 L490.5 350.7 L494.5 348.4 L498.5 346.6 L502.4 345.1 L506.3 344 L510.1 343.3 L513.7 343.1 L517.3 343.2 L520.6 343.8 L523.8 344.7 L526.8 346.1"/>
<path d="M462.2 474.2 L459.3 472.5 L456.8 470.5 L454.4 468.1 L452.4 465.4 L450.6 462.3 L449.1 458.9 L447.9 455.2 L447 451.2 L446.4 447 L446.1 442.5 L446.1 437.9 L446.5 433.1 L447.2 428.1 L448.1 423.1 L449.4 418 L451 412.8 L452.8 407.7 L455 402.5 L457.4 397.5 L460 392.5 L462.9 387.6 L465.9 382.9 L469.2 378.3 L472.6 374 L476.2 369.9 L479.9 366 L483.8 362.5 L487.7 359.2 L491.6 356.3 L495.6 353.7 L499.6 351.5 L503.6 349.6 L507.5 348.2 L511.4 347.1 L515.2 346.4 L518.8 346.1 L522.3 346.3 L525.7 346.8 L528.9 347.8 L531.9 349.1"/>
<path d="M467.4 476.9 L464.6 475.3 L462 473.2 L459.7 470.8 L457.6 468.1 L455.8 465 L454.3 461.6 L453.1 457.9 L452.2 454 L451.6 449.7 L451.4 445.3 L451.4 440.7 L451.8 435.9 L452.4 431 L453.4 426 L454.7 420.9 L456.2 415.7 L458.1 410.6 L460.2 405.5 L462.6 400.4 L465.2 395.4 L468.1 390.6 L471.1 385.8 L474.4 381.3 L477.8 377 L481.4 372.9 L485.1 369.1 L488.9 365.5 L492.8 362.3 L496.8 359.3 L500.7 356.8 L504.7 354.5 L508.7 352.7 L512.6 351.2 L516.5 350.2 L520.2 349.5 L523.9 349.2 L527.4 349.4 L530.7 349.9 L533.9 350.9 L536.9 352.2"/>
<path d="M472.6 479.6 L469.8 478 L467.3 476 L464.9 473.6 L462.9 470.8 L461.1 467.8 L459.6 464.4 L458.4 460.7 L457.5 456.7 L456.9 452.5 L456.6 448.1 L456.7 443.5 L457 438.7 L457.7 433.8 L458.7 428.8 L459.9 423.7 L461.5 418.6 L463.3 413.5 L465.5 408.4 L467.8 403.3 L470.5 398.4 L473.3 393.5 L476.4 388.8 L479.6 384.3 L483 380 L486.6 375.9 L490.3 372.1 L494.1 368.5 L498 365.3 L501.9 362.4 L505.9 359.8 L509.8 357.6 L513.8 355.7 L517.7 354.3 L521.6 353.2 L525.3 352.6 L528.9 352.3 L532.5 352.4 L535.8 353 L539 353.9 L541.9 355.3"/>
<path d="M477.8 482.3 L475.1 480.7 L472.5 478.7 L470.2 476.3 L468.1 473.6 L466.4 470.5 L464.9 467.1 L463.7 463.4 L462.8 459.5 L462.2 455.3 L461.9 450.9 L462 446.3 L462.3 441.6 L463 436.7 L463.9 431.7 L465.2 426.6 L466.7 421.5 L468.6 416.4 L470.7 411.3 L473.1 406.3 L475.7 401.3 L478.5 396.5 L481.6 391.8 L484.8 387.3 L488.2 383 L491.8 378.9 L495.5 375.1 L499.3 371.6 L503.1 368.3 L507 365.4 L511 362.9 L515 360.6 L518.9 358.8 L522.8 357.4 L526.6 356.3 L530.4 355.6 L534 355.4 L537.5 355.5 L540.8 356 L544 357 L547 358.3"/>
<path d="M483.1 485 L480.3 483.4 L477.7 481.4 L475.4 479 L473.4 476.3 L471.6 473.2 L470.1 469.9 L468.9 466.2 L468 462.3 L467.5 458.1 L467.2 453.7 L467.2 449.1 L467.6 444.4 L468.2 439.5 L469.2 434.5 L470.5 429.5 L472 424.4 L473.8 419.3 L475.9 414.2 L478.3 409.2 L480.9 404.2 L483.7 399.4 L486.8 394.7 L490 390.3 L493.4 386 L497 381.9 L500.6 378.1 L504.4 374.6 L508.3 371.4 L512.2 368.5 L516.1 365.9 L520.1 363.7 L524 361.9 L527.9 360.4 L531.7 359.4 L535.5 358.7 L539.1 358.4 L542.6 358.6 L545.9 359.1 L549 360.1 L552 361.4"/>
<path d="M488.3 487.8 L485.5 486.1 L483 484.1 L480.7 481.8 L478.6 479 L476.9 476 L475.4 472.6 L474.2 469 L473.3 465.1 L472.7 460.9 L472.5 456.5 L472.5 451.9 L472.8 447.2 L473.5 442.4 L474.5 437.4 L475.7 432.3 L477.3 427.3 L479.1 422.2 L481.2 417.1 L483.6 412.1 L486.1 407.2 L489 402.4 L492 397.7 L495.2 393.2 L498.6 389 L502.2 384.9 L505.8 381.1 L509.6 377.6 L513.4 374.4 L517.3 371.5 L521.3 368.9 L525.2 366.8 L529.1 364.9 L533 363.5 L536.8 362.4 L540.5 361.8 L544.2 361.5 L547.6 361.6 L550.9 362.2 L554.1 363.1 L557 364.5"/>
<path d="M493.5 490.5 L490.8 488.8 L488.2 486.8 L485.9 484.5 L483.9 481.8 L482.1 478.7 L480.7 475.4 L479.5 471.7 L478.6 467.8 L478 463.7 L477.7 459.3 L477.8 454.8 L478.1 450 L478.8 445.2 L479.7 440.2 L481 435.2 L482.5 430.1 L484.3 425.1 L486.4 420 L488.8 415 L491.4 410.1 L494.2 405.3 L497.2 400.7 L500.4 396.2 L503.8 391.9 L507.3 387.9 L511 384.1 L514.8 380.6 L518.6 377.4 L522.5 374.5 L526.4 372 L530.3 369.8 L534.2 368 L538.1 366.5 L541.9 365.5 L545.6 364.8 L549.2 364.6 L552.7 364.7 L556 365.3 L559.1 366.2 L562.1 367.5"/>
<path d="M498.7 493.2 L496 491.6 L493.5 489.6 L491.2 487.2 L489.1 484.5 L487.4 481.5 L485.9 478.1 L484.7 474.5 L483.9 470.6 L483.3 466.5 L483 462.1 L483 457.6 L483.4 452.9 L484 448 L485 443.1 L486.2 438.1 L487.8 433 L489.6 428 L491.7 422.9 L494 418 L496.6 413.1 L499.4 408.3 L502.4 403.7 L505.6 399.2 L509 394.9 L512.5 390.9 L516.2 387.1 L519.9 383.7 L523.7 380.5 L527.6 377.6 L531.5 375 L535.4 372.9 L539.3 371 L543.2 369.6 L547 368.6 L550.7 367.9 L554.3 367.6 L557.7 367.8 L561 368.3 L564.2 369.3 L567.1 370.6"/>
<path d="M504 495.9 L501.2 494.3 L498.7 492.3 L496.4 489.9 L494.4 487.2 L492.7 484.2 L491.2 480.9 L490 477.3 L489.1 473.4 L488.5 469.3 L488.3 464.9 L488.3 460.4 L488.7 455.7 L489.3 450.9 L490.3 445.9 L491.5 441 L493 435.9 L494.9 430.9 L496.9 425.9 L499.3 420.9 L501.8 416 L504.6 411.2 L507.7 406.6 L510.8 402.2 L514.2 397.9 L517.7 393.9 L521.3 390.2 L525.1 386.7 L528.9 383.5 L532.8 380.6 L536.7 378.1 L540.6 375.9 L544.5 374.1 L548.3 372.7 L552.1 371.6 L555.8 371 L559.4 370.7 L562.8 370.9 L566.1 371.4 L569.2 372.3 L572.1 373.6"/>
<path d="M509.2 498.6 L506.5 497 L503.9 495 L501.7 492.7 L499.7 490 L497.9 487 L496.4 483.7 L495.3 480 L494.4 476.2 L493.8 472.1 L493.5 467.7 L493.6 463.2 L493.9 458.5 L494.6 453.7 L495.5 448.8 L496.8 443.8 L498.3 438.8 L500.1 433.8 L502.2 428.8 L504.5 423.8 L507.1 418.9 L509.9 414.2 L512.9 409.6 L516.1 405.2 L519.4 400.9 L522.9 396.9 L526.5 393.2 L530.2 389.7 L534.1 386.5 L537.9 383.7 L541.8 381.1 L545.7 379 L549.6 377.2 L553.4 375.7 L557.2 374.7 L560.9 374 L564.4 373.8 L567.9 373.9 L571.1 374.5 L574.2 375.4 L577.1 376.7"/>
<path d="M514.4 501.3 L511.7 499.7 L509.2 497.7 L506.9 495.4 L504.9 492.7 L503.2 489.7 L501.7 486.4 L500.5 482.8 L499.7 478.9 L499.1 474.8 L498.8 470.5 L498.8 466 L499.2 461.4 L499.8 456.6 L500.8 451.7 L502 446.7 L503.6 441.7 L505.4 436.7 L507.4 431.7 L509.8 426.7 L512.3 421.9 L515.1 417.1 L518.1 412.6 L521.3 408.1 L524.6 403.9 L528.1 399.9 L531.7 396.2 L535.4 392.7 L539.2 389.6 L543.1 386.7 L546.9 384.2 L550.8 382 L554.7 380.2 L558.5 378.8 L562.3 377.8 L565.9 377.1 L569.5 376.9 L572.9 377 L576.2 377.5 L579.3 378.5 L582.2 379.8"/>
<path d="M519.7 504 L516.9 502.4 L514.4 500.5 L512.2 498.1 L510.2 495.5 L508.4 492.5 L507 489.2 L505.8 485.6 L504.9 481.7 L504.4 477.6 L504.1 473.3 L504.1 468.8 L504.5 464.2 L505.1 459.4 L506 454.5 L507.3 449.6 L508.8 444.6 L510.6 439.6 L512.7 434.6 L515 429.7 L517.5 424.8 L520.3 420.1 L523.3 415.5 L526.5 411.1 L529.8 406.9 L533.3 402.9 L536.9 399.2 L540.6 395.8 L544.4 392.6 L548.2 389.8 L552.1 387.2 L555.9 385.1 L559.8 383.3 L563.6 381.9 L567.4 380.8 L571 380.2 L574.6 379.9 L578 380.1 L581.2 380.6 L584.3 381.5 L587.2 382.8"/>
<path d="M524.9 506.7 L522.2 505.1 L519.7 503.2 L517.4 500.9 L515.4 498.2 L513.7 495.2 L512.2 491.9 L511.1 488.3 L510.2 484.5 L509.6 480.4 L509.4 476.1 L509.4 471.6 L509.7 467 L510.4 462.2 L511.3 457.4 L512.5 452.4 L514.1 447.5 L515.9 442.5 L517.9 437.5 L520.2 432.6 L522.8 427.8 L525.5 423.1 L528.5 418.5 L531.7 414.1 L535 409.9 L538.5 405.9 L542.1 402.2 L545.7 398.8 L549.5 395.6 L553.3 392.8 L557.2 390.3 L561.1 388.1 L564.9 386.4 L568.7 384.9 L572.4 383.9 L576.1 383.3 L579.6 383 L583 383.1 L586.3 383.7 L589.4 384.6 L592.2 385.9"/>
<path d="M530.1 509.5 L527.4 507.9 L524.9 505.9 L522.7 503.6 L520.7 500.9 L518.9 498 L517.5 494.7 L516.3 491.1 L515.5 487.3 L514.9 483.2 L514.6 478.9 L514.7 474.5 L515 469.8 L515.6 465.1 L516.6 460.2 L517.8 455.3 L519.3 450.3 L521.1 445.4 L523.2 440.4 L525.5 435.5 L528 430.7 L530.8 426 L533.7 421.5 L536.9 417.1 L540.2 412.9 L543.7 408.9 L547.2 405.2 L550.9 401.8 L554.7 398.7 L558.5 395.8 L562.3 393.3 L566.2 391.2 L570 389.4 L573.8 388 L577.5 387 L581.2 386.3 L584.7 386.1 L588.1 386.2 L591.3 386.7 L594.4 387.7 L597.3 389"/>
<path d="M535.3 512.2 L532.6 510.6 L530.2 508.6 L527.9 506.3 L525.9 503.7 L524.2 500.7 L522.8 497.4 L521.6 493.9 L520.7 490.1 L520.2 486 L519.9 481.7 L519.9 477.3 L520.3 472.7 L520.9 467.9 L521.8 463.1 L523.1 458.2 L524.6 453.2 L526.4 448.3 L528.4 443.3 L530.7 438.4 L533.2 433.7 L536 429 L538.9 424.4 L542.1 420.1 L545.4 415.9 L548.8 411.9 L552.4 408.2 L556.1 404.8 L559.8 401.7 L563.6 398.9 L567.5 396.4 L571.3 394.3 L575.1 392.5 L578.9 391.1 L582.6 390 L586.2 389.4 L589.8 389.1 L593.2 389.3 L596.4 389.8 L599.4 390.7 L602.3 392"/>
<path d="M540.6 514.9 L537.9 513.3 L535.4 511.4 L533.2 509.1 L531.2 506.4 L529.5 503.5 L528 500.2 L526.9 496.6 L526 492.8 L525.4 488.8 L525.2 484.5 L525.2 480.1 L525.5 475.5 L526.2 470.8 L527.1 465.9 L528.3 461 L529.8 456.1 L531.6 451.2 L533.7 446.2 L535.9 441.4 L538.5 436.6 L541.2 431.9 L544.2 427.4 L547.3 423 L550.6 418.9 L554 414.9 L557.6 411.3 L561.2 407.9 L565 404.7 L568.8 401.9 L572.6 399.4 L576.4 397.3 L580.2 395.5 L584 394.1 L587.7 393.1 L591.3 392.5 L594.8 392.2 L598.2 392.3 L601.4 392.9 L604.5 393.8 L607.3 395.1"/>
<path d="M545.8 517.6 L543.1 516 L540.6 514.1 L538.4 511.8 L536.4 509.1 L534.7 506.2 L533.3 502.9 L532.1 499.4 L531.3 495.6 L530.7 491.6 L530.4 487.3 L530.5 482.9 L530.8 478.3 L531.4 473.6 L532.4 468.8 L533.6 463.9 L535.1 459 L536.9 454.1 L538.9 449.2 L541.2 444.3 L543.7 439.5 L546.4 434.9 L549.4 430.4 L552.5 426 L555.8 421.9 L559.2 418 L562.8 414.3 L566.4 410.9 L570.1 407.8 L573.9 405 L577.7 402.5 L581.5 400.4 L585.3 398.6 L589.1 397.2 L592.8 396.2 L596.4 395.5 L599.9 395.3 L603.3 395.4 L606.5 395.9 L609.5 396.8 L612.4 398.1"/>
<path d="M551 520.3 L548.3 518.7 L545.9 516.8 L543.7 514.5 L541.7 511.9 L540 508.9 L538.5 505.7 L537.4 502.2 L536.5 498.4 L536 494.4 L535.7 490.1 L535.7 485.7 L536.1 481.1 L536.7 476.4 L537.6 471.6 L538.9 466.8 L540.4 461.9 L542.1 457 L544.2 452.1 L546.4 447.2 L548.9 442.5 L551.7 437.8 L554.6 433.3 L557.7 429 L561 424.9 L564.4 421 L567.9 417.3 L571.6 413.9 L575.3 410.8 L579.1 408 L582.9 405.5 L586.7 403.4 L590.5 401.7 L594.2 400.3 L597.9 399.2 L601.5 398.6 L605 398.3 L608.3 398.5 L611.5 399 L614.6 399.9 L617.4 401.2"/>
<path d="M520.2 345.3 L616.5 400.6"/>
<path d="M419.1 451.8 L549.8 519.7"/>
<path d="M419.1 451.8 C421.7 453.1 430 457.3 434.8 459.6 C439.6 461.9 445.5 464.5 447.6 465.5"/>
<path d="M555 521.5 L552.2 520.1 L549.7 518.3 L547.3 516.1 L545.2 513.6 L543.4 510.7 L541.9 507.5 L540.6 504 L539.7 500.3 L539 496.3 L538.7 492.1 L538.7 487.6 L539 483.1 L539.6 478.3 L540.4 473.5 L541.6 468.6 L543.1 463.6 L544.9 458.7 L546.9 453.7 L549.2 448.8 L551.7 444 L554.5 439.3 L557.5 434.8 L560.6 430.4 L563.9 426.3 L567.4 422.3 L571 418.7 L574.7 415.3 L578.5 412.2 L582.3 409.4 L586.1 407 L589.9 405 L593.8 403.3 L597.5 402 L601.2 401.1 L604.8 400.5 L608.3 400.4 L611.6 400.7 L614.8 401.4 L617.8 402.5 L620.6 403.9"/>
<path d="M557.1 521.5 L554.3 520.1 L551.8 518.3 L549.5 516.2 L547.4 513.7 L545.7 510.9 L544.1 507.7 L542.9 504.3 L542 500.6 L541.3 496.7 L541 492.5 L541 488.2 L541.3 483.6 L541.8 479 L542.7 474.2 L543.9 469.4 L545.4 464.5 L547.1 459.6 L549.1 454.7 L551.4 449.9 L553.9 445.2 L556.6 440.6 L559.5 436.1 L562.6 431.8 L565.9 427.7 L569.3 423.8 L572.8 420.2 L576.5 416.9 L580.2 413.8 L583.9 411.1 L587.7 408.7 L591.5 406.7 L595.3 405 L599 403.8 L602.6 402.9 L606.2 402.3 L609.6 402.2 L612.9 402.5 L616 403.2 L618.9 404.2 L621.7 405.7"/>
<path d="M559.1 521.2 L556.3 519.9 L553.9 518.1 L551.6 516 L549.6 513.6 L547.8 510.8 L546.3 507.7 L545.1 504.3 L544.2 500.7 L543.6 496.8 L543.3 492.8 L543.2 488.5 L543.5 484 L544.1 479.5 L544.9 474.8 L546.1 470 L547.5 465.2 L549.2 460.4 L551.2 455.7 L553.4 450.9 L555.9 446.3 L558.5 441.7 L561.4 437.4 L564.5 433.1 L567.7 429.1 L571 425.3 L574.5 421.8 L578.1 418.5 L581.7 415.5 L585.4 412.8 L589.1 410.5 L592.8 408.5 L596.5 406.9 L600.2 405.6 L603.7 404.7 L607.2 404.2 L610.6 404.1 L613.8 404.4 L616.9 405 L619.8 406.1 L622.5 407.5"/>
<ellipse cx="588.5" cy="463.2" rx="64.6" ry="37.3" transform="rotate(120 588.5 463.2)" class="w"/>
<path d="M578 515.6 L574.4 516 L570.9 515.8 L567.6 515.1 L564.6 513.9 L561.8 512.2 L559.4 510 L557.2 507.4 L555.4 504.3 L554 500.9 L553 497.1 L552.3 492.9 L552 488.5 L552.2 483.9 L552.7 479 L553.6 474 L554.9 468.9 L556.6 463.8 L558.6 458.7 L561 453.6 L563.6 448.7 L566.6 443.9 L569.8 439.4 L573.2 435.1 L576.8 431 L580.5 427.4 L584.4 424.1 L588.3 421.2 L592.3 418.8 L596.3 416.8 L600.2 415.3 L604 414.3 L607.7 413.8 L611.3 413.8 L614.6 414.4 L617.7 415.4 L620.6 417 L623.1 419 L625.4 421.5 L627.3 424.4 L628.8 427.7"/>
<ellipse cx="597.9" cy="468.4" rx="44" ry="25.4" transform="rotate(120 597.9 468.4)" class="w"/>
<ellipse cx="603.2" cy="471.3" rx="44" ry="25.4" transform="rotate(120 603.2 471.3)" class="w"/>
<path d="M584.3 500.1 L582.6 498.9 L581.2 497.4 L579.9 495.6 L578.9 493.6 L578.2 491.3 L577.6 488.8 L577.4 486.1 L577.4 483.2 L577.6 480.2 L578.2 477.1 L578.9 473.9 L579.9 470.7 L581.2 467.5 L582.6 464.4 L584.3 461.3 L586.1 458.3 L588.2 455.4 L590.3 452.8 L592.6 450.3 L595 448 L597.4 446 L599.9 444.3 L602.3 442.9 L604.8 441.7 L607.2 440.9 L609.6 440.4 L611.9 440.3 L614 440.5 L616.1 441 L617.9 441.9 L719.4 499.9 L685.8 558.1Z" class="w ns"/>
<path d="M584.3 500.1 L582.6 498.9 L581.2 497.4 L579.9 495.6 L578.9 493.6 L578.2 491.3 L577.6 488.8 L577.4 486.1 L577.4 483.2 L577.6 480.2 L578.2 477.1 L578.9 473.9 L579.9 470.7 L581.2 467.5 L582.6 464.4 L584.3 461.3 L586.1 458.3 L588.2 455.4 L590.3 452.8 L592.6 450.3 L595 448 L597.4 446 L599.9 444.3 L602.3 442.9 L604.8 441.7 L607.2 440.9 L609.6 440.4 L611.9 440.3 L614 440.5 L616.1 441 L617.9 441.9"/>
<path d="M617.9 441.9 L719.4 499.9"/>
<path d="M584.3 500.1 L685.8 558.1"/>
<ellipse cx="702.6" cy="529" rx="33.4" ry="19.3" transform="rotate(120 702.6 529)" class="w"/>
<path d="M695.3 556 L693.7 555.5 L692.3 554.7 L691 553.7 L689.8 552.4 L688.9 550.9 L688.1 549.1 L687.6 547.2 L687.2 545.1 L687.1 542.8 L687.1 540.4 L687.4 537.9 L687.9 535.4 L688.6 532.8 L689.5 530.1 L690.6 527.5 L691.8 524.9 L693.2 522.4 L694.8 520 L696.5 517.7 L698.3 515.6 L700.2 513.6 L702.1 511.9 L704.1 510.3 L706.2 508.9 L708.2 507.9 L710.2 507 L712.2 506.4 L714.1 506.1 L715.9 506.1 L717.7 506.4 L719.3 506.9 L720.7 507.7 L722 508.7 L752.2 526.5 L751.1 525.5 L749.8 524.7 L748.4 524.2 L746.9 523.9 L745.3 523.9 L743.7 524 L741.9 524.5 L740.1 525.1 L738.3 526 L736.5 527.2 L734.7 528.5 L733 530 L731.3 531.7 L729.6 533.6 L728.1 535.6 L726.7 537.7 L725.4 539.9 L724.2 542.2 L723.2 544.5 L722.3 546.8 L721.7 549.2 L721.2 551.5 L720.8 553.7 L720.7 555.9 L720.8 557.9 L721 559.8 L721.5 561.6 L722.1 563.2 L722.9 564.7 L723.8 565.9 L724.9 566.9 L726.2 567.7 L727.6 568.2Z" class="w ns"/>
<path d="M721.3 566.9 L693.4 555.4 Q690.2 553.5 690.4 553.1 L718.4 564.7" class="w"/>
<path d="M721.3 566.9 L726.3 566.9 M718.4 564.7 L724.4 565.5"/>
<path d="M716.7 562.1 L688.6 550.4 Q686.3 547.4 687.3 546.1 L715.5 558" class="w"/>
<path d="M716.7 562.1 L722.3 562.3 M715.5 558 L721.5 559.7"/>
<path d="M715.2 554.2 L687.1 542 Q685.7 538.3 687.7 536.3 L715.8 548.8" class="w"/>
<path d="M715.2 554.2 L721.2 554.8 M715.8 548.8 L721.6 551.4"/>
<path d="M717 544.4 L689 531.6 Q688.5 527.7 691.5 525.7 L719.4 538.8" class="w"/>
<path d="M717 544.4 L723.1 545.8 M719.4 538.8 L724.6 542.2"/>
<path d="M721.8 534.5 L694.1 521.1 Q694.3 517.6 697.9 516 L725.5 529.6" class="w"/>
<path d="M721.8 534.5 L727.7 536.8 M725.5 529.6 L730.1 533.7"/>
<path d="M728.8 526.3 L701.4 512.5 Q702 509.8 705.9 509.1 L733.1 523.1" class="w"/>
<path d="M728.8 526.3 L734.2 529.5 M733.1 523.1 L736.9 527.5"/>
<path d="M736.5 521.3 L709.6 507.2 Q710.3 505.6 714 506.2 L740.7 520.3" class="w"/>
<path d="M736.5 521.3 L741.3 525.3 M740.7 520.3 L744 524.6"/>
<path d="M743.8 520.5 L717.3 506.3 Q717.5 505.9 720.8 507.7 L747.1 521.8" class="w"/>
<path d="M743.8 520.5 L747.8 524.8 M747.1 521.8 L750 525.6"/>
<ellipse cx="738" cy="546.2" rx="23.8" ry="13.7" transform="rotate(120 738 546.2)" class="w"/>
<ellipse cx="737.4" cy="546.2" rx="12.6" ry="8.4" transform="rotate(120 737.4 546.2)"/>
</g>
<g class="hv">
<path d="M901.2 141.2 C902.7 139.3 906.5 133.7 910 130 C913.5 126.3 918.3 121.5 922.5 118.8 C926.7 116.1 930 114.9 935 113.8 C940 112.7 947.1 111.9 952.5 112 C957.9 112.1 962.1 112.8 967.5 114.5 C972.9 116.2 977.9 119.7 985 122.5 C992.1 125.3 1001.7 128.7 1010 131.2 C1018.3 133.7 1026.7 135.7 1035 137.5 C1043.3 139.3 1051.7 140.7 1060 141.8 C1068.3 142.9 1076.7 143.6 1085 144.2 C1093.3 144.8 1102.4 145.2 1110 145.5 C1117.6 145.8 1127.1 146.1 1130.5 146.2"/>
<path d="M901.2 206.2 C902.7 208.1 906.5 213.7 910 217.5 C913.5 221.3 918.3 225.9 922.5 228.8 C926.7 231.7 930 233.3 935 235 C940 236.7 947.1 238.6 952.5 238.8 C957.9 239 962.1 237.7 967.5 236.2 C972.9 234.7 977.9 232.5 985 230 C992.1 227.5 1001.7 223.5 1010 221.2 C1018.3 218.9 1026.7 217.5 1035 216.2 C1043.3 214.9 1051.7 213.9 1060 213.2 C1068.3 212.5 1076.7 212.1 1085 212 C1093.3 211.9 1102.4 212.2 1110 212.5 C1117.6 212.8 1127.1 213.6 1130.5 213.8"/>
<path d="M901.2 141.2 C899.8 142 895.4 143.5 892.5 146.2 C889.6 148.9 885.9 153.1 883.8 157.5 C881.6 161.9 879.6 167.3 879.6 172.5 C879.6 177.7 881.6 184.2 883.8 188.8 C885.9 193.4 889.6 197.1 892.5 200 C895.4 202.9 899.8 205.2 901.2 206.2"/>
<path d="M901.2 141.2 L901.2 206.2"/>
<path d="M1134.2 138.2 Q1138 138.2 1138 142 L1138 215.4 Q1138 219.2 1134.2 219.2 Q1130.4 219.2 1130.4 215.4 L1130.4 142 Q1130.4 138.2 1134.2 138.2Z"/>
<path d="M1138.5 146 C1140.4 147.1 1145.4 150.3 1150 152.5 C1154.6 154.7 1161 157.4 1166 159 C1171 160.6 1175.7 161.4 1180 162 C1184.3 162.6 1190 162.5 1192 162.6"/>
<path d="M1138.5 211 C1140.4 209.8 1145.4 206.5 1150 204 C1154.6 201.5 1161 197.8 1166 196 C1171 194.2 1175.7 193.7 1180 193 C1184.3 192.3 1190 192.2 1192 192"/>
<path d="M1205.5 143 L1205.5 132 Q1205.5 129.8 1207.7 129.8 L1278.6 129.8 Q1280.8 129.8 1280.8 132 L1280.8 143"/>
<path d="M1205.5 136.6 L1280.8 136.6"/>
<path d="M1204 143.6 L1283 143.6 Q1293.4 145 1293.4 157 L1293.4 200 Q1293.4 214 1280 215.2 L1206 215.2 Q1192.4 214 1192.4 200 L1192.4 157 Q1192.4 145 1204 143.6Z"/>
<path d="M1207 215.5 L1207 222 Q1207 230 1216 231 L1269 231 Q1278 230 1278 222 L1278 215.5"/>
<path d="M1216.5 231 L1216.5 249.4 M1268.5 231 L1268.5 249.4 M1213 249.6 L1271.5 249.6"/>
</g>
<g class="md">
<path d="M1204 267 L1204 257 Q1204.5 252.3 1210 252 L1273 252 Q1278.5 252.3 1279 257 L1279 267"/>
<path d="M1204 267.3 L1279 267.3"/>
<path d="M1196.5 308 L1196.5 270.5 Q1196.5 268 1199 268 L1284.5 268 Q1287 268 1287 270.5 L1287 308"/>
<path d="M1182.6 381 L1182.6 314 Q1182.6 308.2 1188.5 308.2 L1298 308.2 Q1304 308.2 1304 314 L1304 381"/>
<path d="M1186 381 Q1176.6 382 1176.6 390.5 Q1176.6 399 1186 400 L1301 400 Q1310.4 399 1310.4 390.5 Q1310.4 382 1301 381 Z"/>
<path d="M1186 400 L1174.5 400.3 L1128 426.3 M1301 400 L1309 400.3 L1355.4 426.3"/>
<path d="M1120 448 L1120 429.5 Q1120 427.2 1122.5 427.2 L1361 427.2 Q1363.4 427.2 1363.4 429.5 L1363.4 449"/>
<path d="M1183.4 452 L1183.4 568.4 M1187.2 452 L1187.2 560.4 M1291.2 453 L1291.2 560.4 M1295 453 L1295 568.4 M1187.2 560.4 L1291.2 560.4"/>
<path d="M1183.4 569.8 L1295 569.8 M1183.4 569.8 L1154.7 578 M1295 569.8 L1324 578 M1154.7 577.6 L1324 577.6"/>
<path d="M1154.7 578 L1154.7 604.5 M1324 578 L1324 604.5"/>
<path d="M1155 597.3 L1192 597.3 L1192 578 M1200.8 578 L1200.8 597.3 L1276.8 597.3 L1276.8 578 M1285.3 578 L1285.3 597.3 L1324 597.3"/>
<path d="M1144.6 640 L1144.6 607.5 Q1144.6 605.3 1146.8 605.3 L1332.5 605.3 Q1334.7 605.3 1334.7 607.5 L1334.7 640"/>
<path d="M1144.6 640 C1144.3 641.8 1144.6 647.5 1142.7 650.7 C1140.8 654 1137.1 657.7 1133.3 659.5 C1129.5 661.3 1122.2 661 1120 661.3"/>
<path d="M1334.7 640 C1335.8 641.8 1338.4 647.2 1341.3 650.7 C1344.2 654.2 1350.2 659.5 1352 661.3"/>
<path d="M1330.7 649.3 C1330.9 651.1 1331.3 657.3 1332 660 C1332.7 662.7 1333.2 664 1334.7 665.3 C1336.2 666.6 1338.4 668 1341.3 668 C1344.2 668 1350.2 665.8 1352 665.3"/>
<path d="M1120 661.3 L1070.5 661.3 Q1066.7 661.3 1066.7 665 L1066.7 791 Q1066.7 794.7 1070.5 794.7 L1154.7 794.7"/>
<path d="M1352 661.3 L1407 661.3 Q1410.7 661.3 1410.7 665 L1410.7 791 Q1410.7 794.7 1407 794.7 L1322.7 794.7"/>
<path d="M1154.7 794.7 C1156.9 795.6 1162.2 797.1 1168 800 C1173.8 802.9 1183.5 809.1 1189.3 812 C1195.1 814.9 1200.5 816.4 1202.7 817.3"/>
<path d="M1277.3 817.3 C1280 816.2 1288 813.4 1293.3 810.7 C1298.6 808 1304.4 804 1309.3 801.3 C1314.2 798.6 1320.5 795.8 1322.7 794.7"/>
<path d="M1202.7 817.3 L1277.3 817.3"/>
<path d="M1094.7 794.7 L1094.7 798.2 L1137.3 798.2 L1137.3 794.7 M1226.7 794.7 L1226.7 798 L1250.7 798 L1250.7 794.7 M1340 794.7 L1340 798.6 L1384 798.6 L1384 794.7"/>
<path d="M1066.7 728.5 L1410.7 728.5"/>
<path d="M1187.6 773.1 L1185.4 770.4 L1183.3 767.7 L1181.4 764.8 L1179.6 761.8 L1178 758.8 L1176.6 755.7 L1175.3 752.4 L1174.1 749.2 L1173.2 745.9 L1172.4 742.5 L1171.7 739.1 L1171.3 735.7 L1171 732.2 L1170.9 728.8 L1171 725.3 L1171.2 721.9 L1171.6 718.5 L1172.2 715.1 L1173 711.7 L1173.9 708.4 L1175.1 705.1 L1176.3 701.9 L1177.8 698.7 L1179.3 695.7 L1181.1 692.7 L1183 689.8 L1185 687 L1187.2 684.3 L1189.5 681.8 L1191.9 679.3 L1194.5 677 L1197.2 674.8 L1200 672.8 L1202.8 670.8 L1205.8 669.1 L1208.9 667.5 L1212 666 L1215.2 664.8 L1218.5 663.6 L1221.8 662.7 L1225.2 661.9 L1228.6 661.3 L1232 660.9 L1235.4 660.6 L1238.9 660.5 L1242.4 660.6 L1245.8 660.9 L1249.2 661.3 L1252.6 661.9 L1256 662.7 L1259.3 663.6 L1262.6 664.8 L1265.8 666 L1268.9 667.5 L1272 669.1 L1275 670.8 L1277.8 672.8 L1280.6 674.8 L1283.3 677 L1285.9 679.3 L1288.3 681.8 L1290.6 684.3 L1292.8 687 L1294.8 689.8 L1296.7 692.7 L1298.5 695.7 L1300 698.7 L1301.5 701.9 L1302.7 705.1 L1303.9 708.4 L1304.8 711.7 L1305.6 715.1 L1306.2 718.5 L1306.6 721.9 L1306.8 725.3 L1306.9 728.8 L1306.8 732.2 L1306.5 735.7 L1306.1 739.1 L1305.4 742.5 L1304.6 745.9 L1303.7 749.2 L1302.5 752.4 L1301.2 755.7 L1299.8 758.8 L1298.2 761.8 L1296.4 764.8 L1294.5 767.7 L1292.4 770.4 L1290.2 773.1"/>
<circle cx="1238.9" cy="728.5" r="51.7"/>
<circle cx="1238.9" cy="728.5" r="48.4"/>
<circle cx="1238.9" cy="728.5" r="42" style="stroke-width:1.7"/>
<path d="M1200 720.8 L1279 720.8"/>
<path d="M1187.5 749 L1187.5 821"/>
<path d="M1291.5 749 L1291.5 821"/>
<path d="M1136 664.8 C1137.3 667.3 1141.5 673.5 1144 680 C1146.5 686.5 1148.9 696 1150.7 704 C1152.5 712 1153.2 722.7 1154.7 728 C1156.2 733.3 1157.6 734.1 1160 736 C1162.4 737.9 1167.8 738.7 1169.3 739.2"/>
<path d="M1337.3 672 C1336.4 674.7 1334 681.8 1332 688 C1330 694.2 1327.1 702.2 1325.3 709.3 C1323.5 716.4 1322.6 726.2 1321.3 730.7 C1320 735.2 1319.3 735.1 1317.3 736.5 C1315.3 737.9 1310.6 738.8 1309.3 739.2"/>
<path d="M1154.7 789.3 C1156.9 788 1163.6 783.3 1168 781.3 C1172.4 779.3 1179.1 778 1181.3 777.3"/>
<path d="M1297.3 777.3 C1299.3 778.2 1305.3 780.7 1309.3 782.7 C1313.3 784.7 1319.3 788.2 1321.3 789.3"/>
<path d="M1206.7 794.7 C1206.5 795.9 1206.2 799.6 1205.5 802 C1204.8 804.4 1203.2 808.1 1202.7 809.3"/>
<path d="M1270.7 794.7 C1271.1 795.9 1272 799.6 1273 802 C1274 804.4 1276.2 808.1 1276.8 809.3"/>
<path d="M1242 144 L1241.2 323"/>
<path d="M1240.6 352.4 L1240.2 418"/>
<path d="M1240.1 427.6 L1238.7 813"/>
<path d="M1242.4 126 L1242.4 130"/>
<circle cx="1242.4" cy="121.6" r="0.7" class="dot"/>
<circle cx="1240.6" cy="343" r="0.8" class="dot"/>
<circle cx="1240.2" cy="421.8" r="0.8" class="dot"/>
</g>
<path d="M1011 446.4 L1425 453.6" style="stroke:#0a0a0a;stroke-width:2.6;stroke-linecap:butt"/>
<g class="dm">
<path d="M194.6 886.7 L194.6 840 Q194.6 837 197.6 837 L282.6 837 Q285.6 837 285.6 840 L285.6 874"/>
<path d="M285.6 874 C285.8 875.3 285.9 879.8 287 882 C288.1 884.2 290.2 886 292 887 C293.8 888 297 887.8 298 888"/>
<path d="M298 888 L322 888 Q324 888 324 890 L324 1010 Q324 1012 322 1012 L298 1012"/>
<path d="M298 1012 C296.7 1012.3 292 1012.7 290 1014 C288 1015.3 286.7 1017.8 286 1020 C285.3 1022.2 285.7 1025.8 285.6 1027"/>
<path d="M285.6 1027 L285.6 1060 Q285.6 1063 282.6 1063 L198 1063 Q195 1063 195 1060 L195 1008"/>
<path d="M194.6 886.7 C194.3 888 194.1 891.6 193 894.7 C191.9 897.8 189.7 901.8 188 905.3 C186.3 908.8 184.1 912.4 182.7 916 C181.3 919.6 180.2 920.9 179.6 926.7 C179 932.5 179.2 942.7 179.2 950.7 C179.2 958.7 179 969.2 179.6 974.7 C180.2 980.2 181.3 980.9 182.7 984 C184.1 987.1 186.3 990.2 188 993.3 C189.7 996.4 191.8 1000.2 193 1002.7 C194.2 1005.2 194.7 1007.1 195 1008"/>
<path d="M194.6 856 L192.4 857 L192.4 879 L194.6 880 M195 1017 L192.6 1018 L192.6 1043 L195 1044"/>
<path d="M193.6 942.5 L193.6 953.5"/>
<circle cx="240.2" cy="951" r="46"/>
<circle cx="240.2" cy="951" r="34.2"/>
<circle cx="240.2" cy="951" r="31.7"/>
<circle cx="240.2" cy="951" r="27.5" style="stroke-width:1.1"/>
<path d="M245.6 924 L245.6 978"/>
<path d="M234 902.5 C234.3 901.6 234.7 898.4 236 897 C237.3 895.6 238 895.2 242 894 C246 892.8 254.7 891.3 260 890 C265.3 888.7 270.2 887.2 274 886 C277.8 884.8 281.5 883.5 283 883"/>
<path d="M234 996 C234.3 996.8 234.3 999.5 236 1001 C237.7 1002.5 240 1003.8 244 1005 C248 1006.2 255 1006.8 260 1008 C265 1009.2 270.7 1010.8 274 1012 C277.3 1013.2 278.7 1014.5 279.6 1015"/>
<path d="M279.6 1015 C280.7 1014.3 283.4 1011.9 286 1011 C288.6 1010.1 293.5 1009.8 295 1009.6"/>
<path d="M279.6 1015 C280 1015.8 281.1 1018.3 282 1020 C282.9 1021.7 284.5 1024.2 285 1025"/>
<path d="M197.3 894.7 C198.2 896 201 899.8 202.7 902.7 C204.4 905.6 206.5 910.5 207.3 912"/>
<path d="M185.3 925.3 C186.2 925.8 188.9 927.3 190.7 928 C192.5 928.7 195.1 929.1 196 929.3"/>
<path d="M185.3 973.3 C186.2 973 188.9 971.7 190.7 971.3 C192.5 970.9 195.1 970.8 196 970.7"/>
<path d="M197.3 1004.7 C198.2 1003.5 201 1000.2 202.7 997.3 C204.4 994.4 206.5 989 207.3 987.3"/>
<path d="M325.6 896 L341.5 895 Q344 896 345 902 L347 914 L347 988 L345 1000 Q344 1005 341.5 1006 L325.6 1006 Z"/>
<path d="M329 896 L329 1006"/>
<path d="M329 920 L346 920 M329 926 L346 926 M329 977 L346 977 M329 983 L346 983"/>
<path d="M347 914 L445 914 M354 917 L445 917 M354 984.4 L445 984.4 M347 987.4 L445 987.4 M354 914 L354 987.4 M445 914 L445 987.4"/>
<path d="M445 915 L449 921 L449 981 L445 987 M449 921 L452.4 921 L452.4 980 L449 980"/>
<path d="M453 929.6 L458 929.6 L458 940 L453 940Z M453 963 L458 963 L458 973 L453 973Z" style="fill:#555"/>
<path d="M458 940 L458 963"/>
<path d="M458 935.6 L547 935.6 M458 968 L547 968 M547 935.6 L547 968 M547 935.6 L549.4 940 L549.4 964 L547 968 M549.4 941 L553 941 M549.4 963 L553 963"/>
<path d="M553 939 L566 939 Q569 939 569 942 L569 962 Q569 965 566 965 L553 965 Z"/>
<path d="M554.8 939.5 L554.8 964.5"/>
<path d="M556.6 939.5 L556.6 964.5"/>
<path d="M558.4 939.5 L558.4 964.5"/>
<path d="M560.2 939.5 L560.2 964.5"/>
<path d="M562 939.5 L562 964.5"/>
<path d="M563.8 939.5 L563.8 964.5"/>
<path d="M565.6 939.5 L565.6 964.5"/>
<path d="M567.4 939.5 L567.4 964.5"/>
<path d="M182 951 L549 951.6"/>
<path d="M239.8 671 L239.8 1063"/>
<path d="M239.8 677.6 L546.6 678.6"/>
<path d="M546.6 672 L546.6 921"/>
<path d="M239.8 677.6 L266.3 682 L266.3 673.2Z"/>
<path d="M546.6 678.6 L520.1 674.2 L520.1 683Z"/>
<path d="M75 758.2 L274.5 758.2"/>
<path d="M205.8 751 L205.8 826"/>
<path d="M274.5 751 L274.5 826"/>
<path d="M210 758.2 L232.5 762.4 L232.5 754Z"/>
<path d="M269.5 758.2 L247 754 L247 762.4Z"/>
<path d="M347 805 L452.4 805"/>
<path d="M347 798 L347 900"/>
<path d="M452.4 798.6 L452.4 907"/>
<path d="M347 805 L373.5 809.4 L373.5 800.6Z"/>
<path d="M452.4 805 L425.9 800.6 L425.9 809.4Z"/>
<path d="M116.7 916.3 L226 916.3"/>
<path d="M116.7 984.4 L226 984.4"/>
<path d="M122.7 916.3 L122.7 984.4"/>
<path d="M122.7 917.3 L118.7 942 L126.7 942Z"/>
<path d="M122.7 983.4 L126.7 958.7 L118.7 958.7Z"/>
<path d="M65 1123 L275 1123"/>
<path d="M206.4 1073 L206.4 1129"/>
<path d="M275 1073 L275 1129"/>
<path d="M210 1123 L233 1127 L233 1119Z"/>
<path d="M270 1123 L248 1119 L248 1127Z"/>
<path d="M507.6 856 L507.6 1154"/>
<path d="M458 915.6 L514 915.6"/>
<path d="M458 988 L514 988"/>
<path d="M507.6 915.6 L511.9 889 L503.3 889Z"/>
<path d="M507.6 988 L503.1 1014.6 L512.1 1014.6Z"/>
<path d="M634 659 L633.4 1018"/>
<path d="M580 939.4 L641 939.4"/>
<path d="M580 965.6 L641 965.6"/>
<path d="M633.8 939.4 L638.1 912.4 L629.5 912.4Z"/>
<path d="M633.6 965.6 L629.2 992.1 L638 992.1Z"/>
</g>
<text x="0" y="0" font-size="36.5" transform="translate(379.7 657.8) scale(1 1.03)">92</text>
<text x="0" y="0" font-size="36.5" transform="translate(380.6 784.2) scale(1 1.03)">32</text>
<text x="0" y="0" font-size="35.2" transform="translate(852.6 1134.6) scale(1 1.077)">68</text>
<text x="0" y="0" font-size="35" transform="translate(88.2 739) scale(1 1.1)">G.1/2"</text>
<text x="0" y="0" font-size="34.6" transform="translate(78.6 1102.6) scale(1 1.08)">G.1/2"</text>
<text x="0" y="0" font-size="34.3" transform="translate(103.7 998.3) rotate(-90) scale(1 1.1)">G.1/2"</text>
<text x="0" y="0" font-size="36.4" transform="translate(613.8 862.5) rotate(-90) scale(1 1.043)">&#216; 7.65 x Z=20</text>
<text x="0" y="0" font-size="35.6" transform="translate(488.2 1140) rotate(-90) scale(1 1.015)">&#216; 22x19"</text>
<text x="0" y="0" font-size="35" transform="translate(693.7 968.1) rotate(-90) scale(1 1.09)">68</text>
<g class="dm">
<path d="M831.7 837.7 L914.8 837.7 Q917.8 837.7 917.8 840.7 L917.8 896.7 Q917.8 907.7 928.8 907.7 L984.2 907.7 Q987.2 907.7 987.2 910.7 L987.2 993.7 Q987.2 996.7 984.2 996.7 L928.8 996.7 Q917.8 996.7 917.8 1007.7 L917.8 1061.3 Q917.8 1064.3 914.8 1064.3 L831.7 1064.3 Q828.7 1064.3 828.7 1061.3 L828.7 1007.7 Q828.7 996.7 817.7 996.7 L764.5 996.7 Q761.5 996.7 761.5 993.7 L761.5 910.7 Q761.5 907.7 764.5 907.7 L817.7 907.7 Q828.7 907.7 828.7 896.7 L828.7 840.7 Q828.7 837.7 831.7 837.7 Z"/>
<path d="M851.5 919.5 A21.65 21.65 0 0 1 894.8 919.5 L894.8 983.5 A21.65 21.65 0 0 1 851.5 983.5 Z"/>
<circle cx="873" cy="951.9" r="24.9"/>
<path d="M873 901.7 L873 1003"/>
<path d="M811.6 951.9 L930.6 951.9"/>
<circle cx="873" cy="951.9" r="1" style="fill:#222"/>
<path d="M829.7 905 C831 905.5 835.2 906.3 837.2 908.1 C839.2 909.9 840.8 914.4 841.5 915.6"/>
<path d="M917.2 905 C915.8 905.5 910.8 906.3 908.7 908.1 C906.6 909.9 905.1 914.4 904.4 915.6"/>
<path d="M829.7 998.8 C831.1 998.1 836.3 996.5 838.3 994.5 C840.3 992.5 841.3 988.2 841.9 987"/>
<path d="M916.6 998.8 C915.3 998.1 910.7 996.5 908.7 994.5 C906.7 992.5 905.1 988.2 904.4 987"/>
<path d="M779.8 951 L799.5 951 L799.5 948.6 L808 952.7 L799.5 956.8 L799.5 954.4 L779.8 954.4 Z"/>
<path d="M969 951 L947.5 951 L947.5 948.6 L938.6 952.7 L947.5 956.8 L947.5 954.4 L969 954.4 Z"/>
<path d="M713.5 838.8 L713.5 1064.3"/>
<path d="M707 838 L818 838"/>
<path d="M707.5 1064.3 L819 1064.3"/>
<path d="M713.5 839.6 L709.2 865.6 L717.8 865.6Z"/>
<path d="M713.5 1063.6 L717.8 1037.6 L709.2 1037.6Z"/>
<path d="M762 1007.5 L762 1161"/>
<path d="M987.6 1007.5 L987.6 1161"/>
<path d="M762 1155 L987.6 1155"/>
<path d="M762 1155 L789 1159.3 L789 1150.7Z"/>
<path d="M987.6 1155 L960.6 1150.7 L960.6 1159.3Z"/>
</g>
<path d="M868.6 854.2 L868.6 872.6 L873.5 872.6 Q880.6 872.6 880.6 863.4 Q880.6 854.2 873.5 854.2 Z" style="stroke:#2a2a2a;stroke-width:3.3;stroke-linejoin:round"/>
<path d="M867.6 1029 L874.6 1047.5 L881.6 1029" style="stroke:#2a2a2a;stroke-width:3.3;stroke-linejoin:miter;stroke-linecap:butt"/>
<path d="M868.6 854.2 L868.6 872.6 L873.5 872.6 Q880.6 872.6 880.6 863.4 Q880.6 854.2 873.5 854.2 Z" style="stroke:#ffffff;stroke-width:1.5;stroke-linejoin:round"/>
<path d="M867.6 1029 L874.6 1047.5 L881.6 1029" style="stroke:#ffffff;stroke-width:1.5;stroke-linejoin:miter;stroke-linecap:butt"/>
</svg>
</body></html>
